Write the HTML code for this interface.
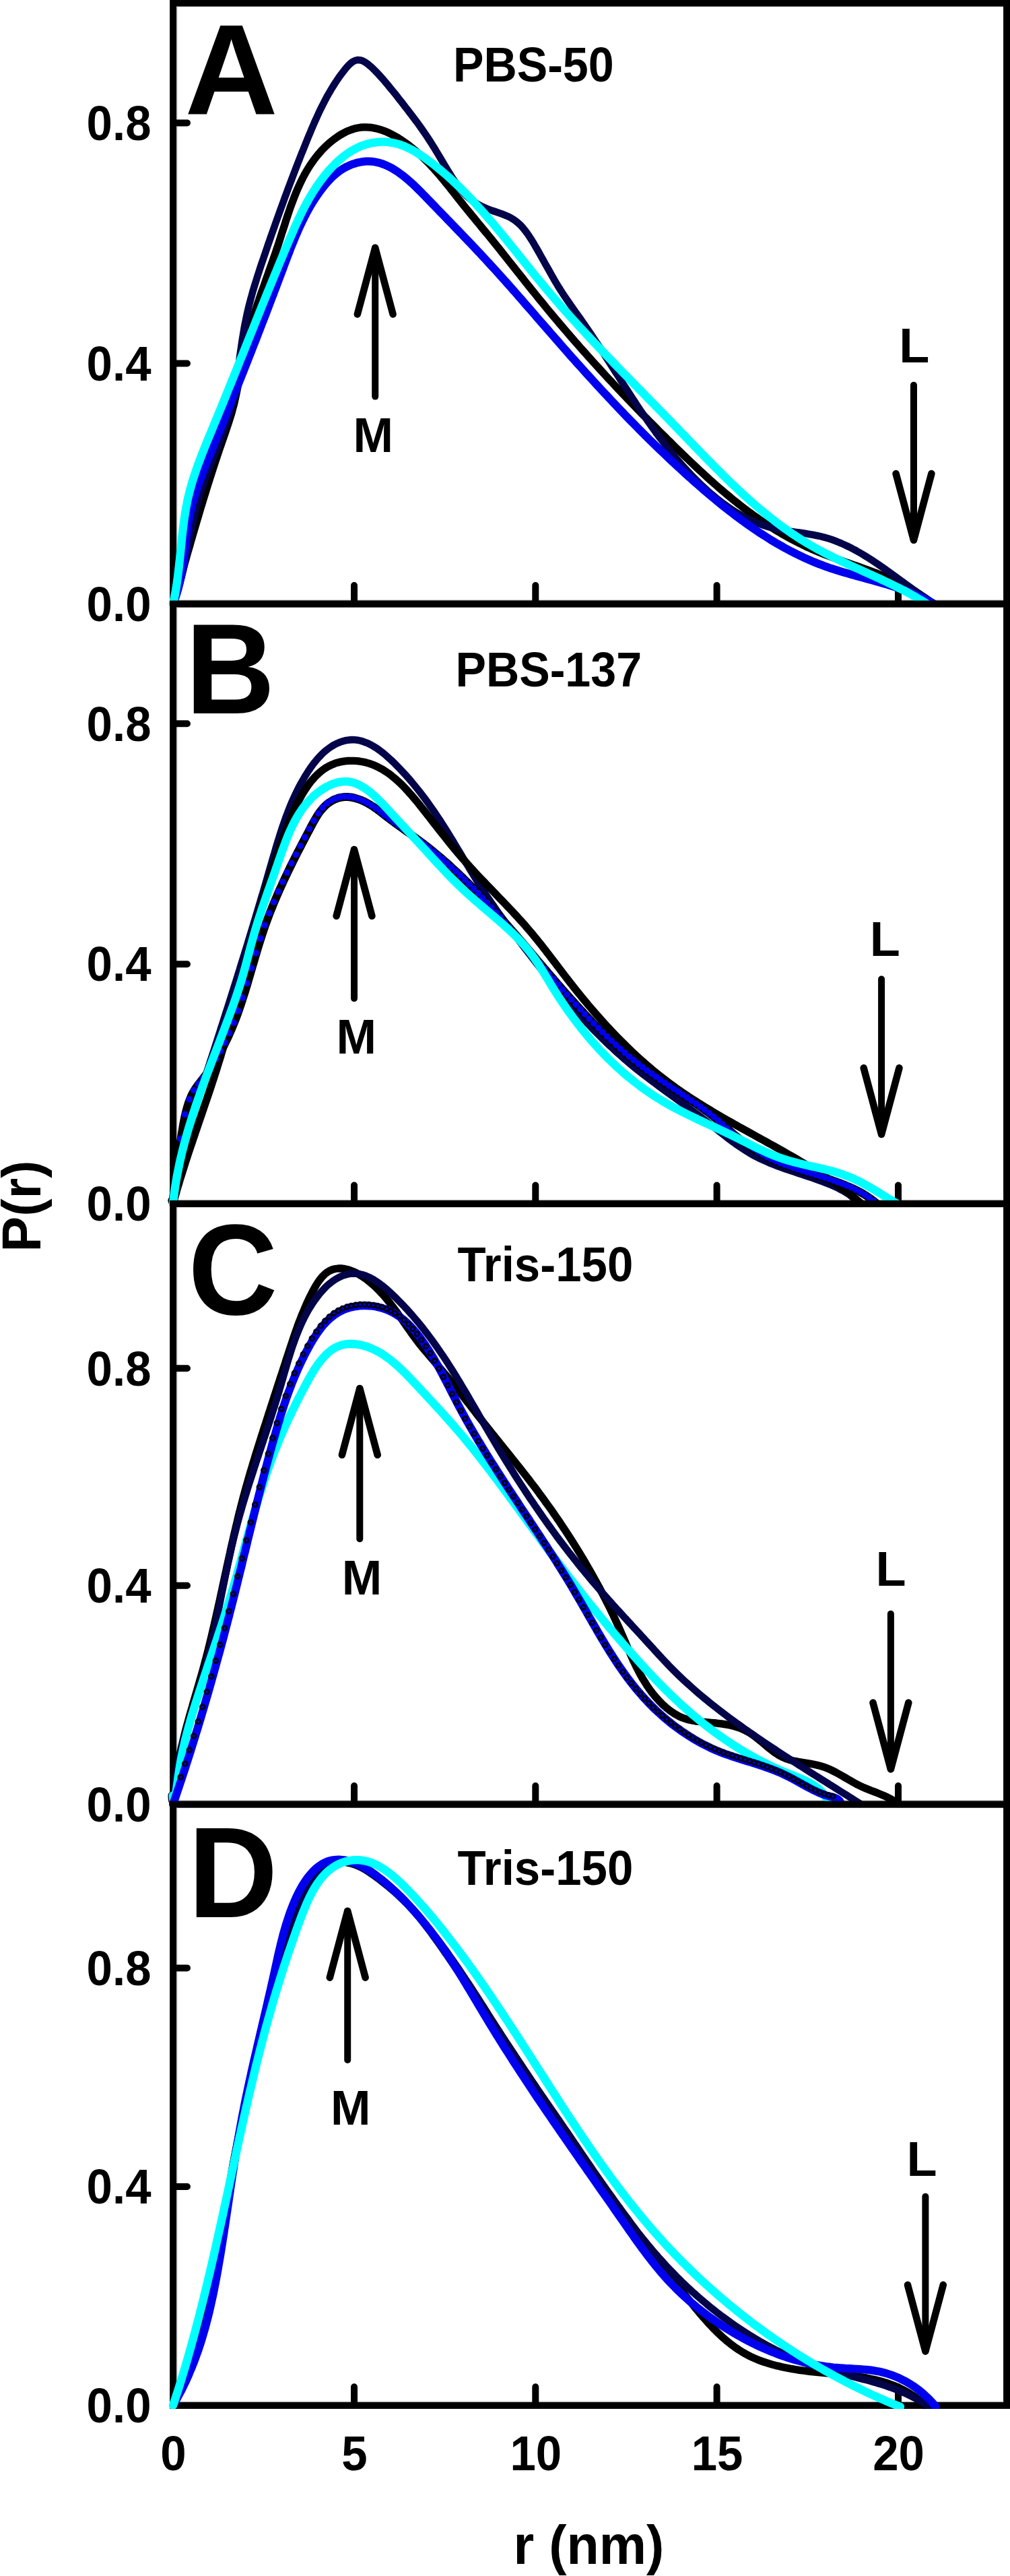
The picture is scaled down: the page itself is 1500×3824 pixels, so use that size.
<!DOCTYPE html>
<html lang="en"><head><meta charset="utf-8"><title>P(r) distributions</title>
<style>html,body{margin:0;padding:0;background:#fff}svg{display:block}text{font-family:"Liberation Sans",Arial,Helvetica,sans-serif;font-weight:bold;fill:#000}.t{font-size:69px}.ax{font-size:79px}.pl{font-size:184px}.c{fill:none;stroke-linejoin:round;stroke-linecap:round}</style></head><body>
<svg width="1500" height="3824" viewBox="0 0 1500 3824">
<defs><marker id="mb" markerWidth="14" markerHeight="14" refX="7" refY="7" markerUnits="userSpaceOnUse"><circle cx="6.4" cy="6.4" r="4.9" fill="#0000ee"/></marker><marker id="mc" markerWidth="14" markerHeight="14" refX="7" refY="7" markerUnits="userSpaceOnUse"><circle cx="5.3" cy="5.3" r="3.25" fill="none" stroke="#000014" stroke-width="3.0"/></marker><clipPath id="clipD"><rect x="240" y="2670" width="1260" height="906"/></clipPath></defs>
<rect x="0" y="0" width="1500" height="3824" fill="#fff"/>
<g id="panelA">
<rect x="257.2" y="4.6" width="1238.0" height="892.0" fill="#fff" stroke="#000" stroke-width="10.2"/>
<path d="M262.9 9.6V890.9H1490.2" fill="none" stroke="#c4c4c4" stroke-width="1.3"/>
<path d="M260.0 182.4H278.0M260.0 539.5H278.0M526.0 893.6V869.1M795.3 893.6V869.1M1064.6 893.6V869.1M1334.0 893.6V869.1" stroke="#000" stroke-width="10" stroke-linecap="round" fill="none"/>
<g>
<path class="c" d="M257.0 896.6L258.4 891.8 259.8 886.9 261.2 882.1 262.5 877.3 263.9 872.4 265.3 867.6 266.7 862.8 268.0 857.9 269.4 853.1 270.8 848.3 272.1 843.5 273.5 838.7 274.9 833.9 276.3 829.1 277.6 824.3 279.0 819.5 280.4 814.7 281.8 809.9 283.1 805.1 284.5 800.3 285.9 795.5 287.3 790.7 288.7 785.9 290.1 781.1 291.5 776.3 292.9 771.6 294.4 766.8 295.8 762.0 297.2 757.2 298.6 752.4 300.1 747.7 301.5 742.9 303.0 738.1 304.5 733.4 305.9 728.6 307.4 723.8 308.9 719.0 310.4 714.3 311.9 709.5 313.5 704.7 315.0 700.0 316.5 695.2 318.1 690.4 319.6 685.7 321.2 680.9 322.8 676.2 324.4 671.4 326.0 666.6 327.7 661.9 329.3 657.1 331.0 652.3 332.6 647.6 334.3 642.8 335.9 638.0 337.5 633.3 339.1 628.5 340.6 623.7 342.1 619.0 343.6 614.2 344.9 609.4 346.2 604.6 347.5 599.9 348.6 595.1 349.7 590.3 350.7 585.5 351.7 580.8 352.6 576.0 353.5 571.2 354.4 566.4 355.2 561.6 356.1 556.9 356.9 552.1 357.8 547.3 358.6 542.5 359.5 537.7 360.4 532.9 361.3 528.1 362.3 523.3 363.3 518.5 364.4 513.7 365.5 508.9 366.7 504.1 367.9 499.2 369.2 494.4 370.5 489.6 371.9 484.8 373.4 480.0 374.8 475.1 376.3 470.3 377.9 465.5 379.4 460.6 381.0 455.8 382.6 450.9 384.3 446.1 386.0 441.2 387.6 436.4 389.3 431.5 391.1 426.6 392.8 421.8 394.5 416.9 396.2 412.0 398.0 407.1 399.7 402.2 401.4 397.4 403.2 392.5 404.9 387.6 406.6 382.7 408.3 377.8 410.0 372.8 411.6 367.9 413.3 363.0 414.9 358.1 416.5 353.1 418.0 348.2 419.6 343.3 421.2 338.4 422.8 333.5 424.3 328.6 425.9 323.7 427.5 318.9 429.2 314.0 430.8 309.2 432.5 304.5 434.3 299.7 436.1 295.0 437.9 290.4 439.8 285.7 441.7 281.1 443.7 276.6 445.8 272.1 447.9 267.7 450.1 263.3 452.4 259.0 454.8 254.7 457.3 250.6 459.9 246.4 462.6 242.4 465.4 238.4 468.3 234.5 471.3 230.7 474.5 227.0 477.7 223.3 481.2 219.8 484.7 216.3 488.4 212.9 492.2 209.7 496.2 206.6 500.2 203.7 504.3 201.0 508.6 198.5 512.9 196.2 517.2 194.2 521.7 192.5 526.1 191.1 530.6 190.0 535.2 189.2 539.8 188.8 544.3 188.8 548.9 189.1 553.5 189.7 558.1 190.6 562.7 191.8 567.3 193.2 571.9 194.9 576.4 196.8 580.9 199.0 585.4 201.4 589.8 203.9 594.3 206.7 598.6 209.6 602.9 212.6 607.2 215.8 611.4 219.1 615.5 222.5 619.5 226.0 623.5 229.6 627.4 233.2 631.2 236.9 634.9 240.6 638.5 244.3 642.0 248.0 645.4 251.8 648.7 255.5 652.0 259.2 655.2 263.0 658.3 266.8 661.4 270.6 664.5 274.3 667.5 278.1 670.5 281.9 673.6 285.7 676.6 289.6 679.6 293.4 682.6 297.2 685.6 301.0 688.7 304.9 691.8 308.7 695.0 312.6 698.1 316.4 701.3 320.3 704.5 324.2 707.7 328.1 710.9 332.0 714.1 335.9 717.3 339.8 720.5 343.7 723.8 347.6 727.0 351.5 730.2 355.4 733.3 359.3 736.5 363.3 739.7 367.2 742.8 371.1 746.0 375.1 749.1 379.0 752.3 383.0 755.4 386.9 758.5 390.9 761.7 394.8 764.8 398.7 767.9 402.7 771.0 406.6 774.2 410.6 777.3 414.5 780.4 418.4 783.5 422.4 786.7 426.3 789.8 430.2 792.9 434.1 796.1 438.0 799.2 441.9 802.4 445.8 805.6 449.7 808.7 453.6 811.9 457.5 815.1 461.3 818.3 465.2 821.5 469.0 824.8 472.9 828.0 476.7 831.2 480.5 834.5 484.3 837.7 488.1 841.0 491.9 844.2 495.7 847.5 499.5 850.8 503.3 854.1 507.1 857.4 510.8 860.7 514.6 864.0 518.4 867.4 522.1 870.7 525.8 874.0 529.6 877.4 533.3 880.7 537.0 884.1 540.7 887.5 544.4 890.9 548.1 894.2 551.8 897.6 555.5 901.0 559.2 904.4 562.9 907.9 566.5 911.3 570.2 914.7 573.8 918.2 577.5 921.6 581.1 925.1 584.8 928.5 588.4 932.0 592.0 935.5 595.6 938.9 599.3 942.4 602.9 945.9 606.5 949.4 610.1 952.9 613.7 956.4 617.3 960.0 620.8 963.5 624.4 967.0 628.0 970.6 631.6 974.1 635.1 977.7 638.7 981.2 642.2 984.8 645.8 988.4 649.3 992.0 652.9 995.6 656.4 999.1 659.9 1002.7 663.5 1006.4 667.0 1010.0 670.5 1013.6 674.0 1017.2 677.5 1020.9 681.0 1024.5 684.5 1028.2 688.0 1031.8 691.4 1035.5 694.9 1039.2 698.3 1042.9 701.7 1046.6 705.1 1050.3 708.5 1054.0 711.9 1057.8 715.2 1061.6 718.6 1065.3 721.9 1069.1 725.2 1072.9 728.4 1076.8 731.7 1080.6 734.9 1084.5 738.1 1088.3 741.3 1092.2 744.4 1096.1 747.5 1100.1 750.6 1104.0 753.7 1108.0 756.7 1112.0 759.7 1116.0 762.6 1120.0 765.5 1124.1 768.4 1128.2 771.3 1132.3 774.1 1136.4 776.9 1140.5 779.6 1144.7 782.3 1148.9 785.0 1153.1 787.6 1157.4 790.1 1161.7 792.7 1166.0 795.1 1170.3 797.6 1174.7 800.0 1179.1 802.3 1183.5 804.6 1187.9 806.8 1192.4 809.0 1196.9 811.2 1201.5 813.2 1206.0 815.3 1210.7 817.3 1215.3 819.2 1219.9 821.1 1224.6 822.9 1229.3 824.8 1234.0 826.5 1238.8 828.3 1243.5 830.0 1248.3 831.8 1253.1 833.5 1257.8 835.2 1262.6 836.8 1267.4 838.5 1272.2 840.2 1276.9 841.9 1281.7 843.6 1286.5 845.3 1291.2 847.1 1295.9 848.9 1300.7 850.6 1305.4 852.5 1310.0 854.3 1314.7 856.2 1319.3 858.2 1323.9 860.2 1328.5 862.2 1333.0 864.3 1337.5 866.5 1342.0 868.7 1346.4 871.0 1350.8 873.4 1355.2 875.8 1359.5 878.3 1363.7 880.9 1367.9 883.6 1372.0 886.4 1376.1 889.3 1380.1 892.3 1384.1 895.4 1388.0 898.6" stroke="#000000" stroke-width="11.3"/>
<path class="c" d="M257.0 896.6L258.8 891.8 260.6 886.9 262.2 882.1 263.8 877.2 265.3 872.4 266.7 867.5 268.0 862.7 269.3 857.9 270.5 853.0 271.7 848.2 272.8 843.4 273.8 838.5 274.9 833.7 275.9 828.9 276.8 824.0 277.8 819.2 278.7 814.4 279.6 809.6 280.6 804.8 281.5 799.9 282.4 795.1 283.3 790.3 284.3 785.5 285.3 780.7 286.3 775.9 287.3 771.0 288.4 766.2 289.5 761.4 290.6 756.6 291.8 751.8 293.1 747.0 294.5 742.2 295.9 737.4 297.4 732.6 298.9 727.8 300.5 723.0 302.2 718.1 303.9 713.3 305.7 708.5 307.5 703.7 309.3 698.9 311.1 694.1 313.0 689.3 314.9 684.5 316.8 679.7 318.7 674.9 320.6 670.1 322.5 665.3 324.3 660.4 326.2 655.6 328.0 650.8 329.8 646.0 331.6 641.2 333.3 636.4 334.9 631.6 336.5 626.7 338.0 621.9 339.5 617.1 340.9 612.3 342.2 607.5 343.4 602.6 344.6 597.8 345.7 593.0 346.7 588.2 347.7 583.3 348.6 578.5 349.5 573.7 350.3 568.8 351.1 564.0 351.9 559.2 352.6 554.3 353.3 549.5 354.0 544.7 354.7 539.8 355.4 535.0 356.0 530.2 356.7 525.3 357.4 520.5 358.1 515.7 358.8 510.8 359.5 506.0 360.3 501.2 361.1 496.3 361.9 491.5 362.7 486.7 363.6 481.8 364.6 477.0 365.6 472.2 366.6 467.3 367.7 462.5 368.8 457.7 370.0 452.8 371.3 448.0 372.5 443.2 373.9 438.4 375.2 433.5 376.6 428.7 378.1 423.9 379.6 419.1 381.1 414.2 382.6 409.4 384.2 404.6 385.7 399.8 387.3 395.0 388.9 390.2 390.6 385.4 392.2 380.6 393.9 375.8 395.5 370.9 397.2 366.1 398.8 361.3 400.5 356.5 402.1 351.8 403.8 347.0 405.5 342.2 407.2 337.4 408.9 332.6 410.6 327.8 412.3 323.0 414.0 318.3 415.7 313.5 417.4 308.7 419.2 303.9 420.9 299.2 422.6 294.4 424.4 289.7 426.1 284.9 427.9 280.1 429.7 275.4 431.5 270.7 433.3 265.9 435.1 261.2 436.9 256.4 438.7 251.7 440.5 247.0 442.3 242.3 444.2 237.5 446.0 232.8 447.9 228.1 449.8 223.4 451.7 218.7 453.6 214.0 455.5 209.3 457.4 204.6 459.3 199.9 461.3 195.3 463.2 190.6 465.2 186.0 467.2 181.3 469.3 176.7 471.4 172.1 473.5 167.6 475.6 163.1 477.8 158.6 480.1 154.1 482.4 149.6 484.7 145.2 487.1 140.9 489.6 136.6 492.1 132.3 494.7 128.1 497.3 123.9 500.0 119.8 502.8 115.7 505.7 111.7 508.6 107.8 511.6 103.9 514.7 100.1 517.9 96.7 521.2 93.6 524.6 91.2 528.1 89.6 531.6 88.9 535.3 89.3 539.1 90.6 542.9 92.7 546.7 95.4 550.5 98.7 554.3 102.2 558.1 106.0 561.8 109.9 565.4 113.9 569.0 117.9 572.5 122.0 576.0 126.1 579.4 130.3 582.8 134.5 586.2 138.6 589.5 142.8 592.7 146.9 596.0 151.1 599.2 155.1 602.3 159.2 605.5 163.2 608.5 167.2 611.6 171.2 614.6 175.2 617.6 179.2 620.5 183.2 623.4 187.1 626.2 191.1 629.0 195.1 631.7 199.0 634.4 203.0 637.0 207.0 639.6 211.0 642.1 215.1 644.7 219.1 647.2 223.2 649.7 227.4 652.2 231.5 654.7 235.7 657.2 239.9 659.7 244.2 662.3 248.5 665.0 252.9 667.7 257.3 670.5 261.8 673.3 266.3 676.3 270.7 679.3 275.1 682.5 279.3 685.8 283.4 689.3 287.2 692.9 290.8 696.6 294.2 700.5 297.3 704.6 300.1 708.7 302.7 713.0 305.1 717.3 307.2 721.8 309.2 726.3 310.9 730.9 312.6 735.5 314.1 740.1 315.7 744.6 317.3 749.0 319.0 753.4 320.8 757.6 322.8 761.7 325.2 765.6 327.8 769.3 330.8 772.9 334.2 776.3 337.9 779.5 341.8 782.7 346.0 785.7 350.3 788.6 354.8 791.4 359.3 794.1 363.9 796.8 368.5 799.4 373.0 801.9 377.5 804.4 382.0 806.9 386.4 809.3 390.8 811.8 395.1 814.2 399.4 816.6 403.7 819.0 408.0 821.4 412.2 823.8 416.4 826.3 420.6 828.8 424.7 831.4 428.9 834.0 433.0 836.7 437.1 839.4 441.2 842.2 445.3 845.1 449.4 847.9 453.5 850.8 457.6 853.7 461.7 856.6 465.8 859.5 469.9 862.5 474.0 865.4 478.2 868.2 482.3 871.1 486.5 874.0 490.6 876.8 494.8 879.6 499.0 882.4 503.2 885.2 507.4 888.0 511.6 890.8 515.9 893.5 520.1 896.3 524.3 899.0 528.6 901.7 532.8 904.5 537.1 907.2 541.3 909.9 545.6 912.6 549.8 915.3 554.1 918.1 558.3 920.8 562.6 923.5 566.8 926.2 571.0 928.9 575.3 931.7 579.5 934.4 583.7 937.2 587.9 939.9 592.1 942.7 596.3 945.4 600.5 948.2 604.7 951.0 608.9 953.8 613.0 956.6 617.2 959.5 621.3 962.3 625.4 965.2 629.5 968.1 633.6 971.0 637.6 973.9 641.7 976.9 645.7 979.9 649.7 982.9 653.6 985.9 657.6 989.0 661.5 992.0 665.4 995.1 669.3 998.3 673.2 1001.4 677.0 1004.6 680.8 1007.9 684.6 1011.1 688.3 1014.4 692.0 1017.8 695.7 1021.2 699.4 1024.6 703.0 1028.0 706.6 1031.5 710.1 1035.0 713.6 1038.6 717.1 1042.2 720.5 1045.9 723.9 1049.6 727.3 1053.3 730.6 1057.1 733.9 1061.0 737.1 1064.9 740.3 1068.8 743.4 1072.8 746.5 1076.8 749.4 1080.9 752.3 1085.0 755.2 1089.2 757.9 1093.4 760.6 1097.7 763.1 1102.0 765.6 1106.4 767.9 1110.8 770.2 1115.2 772.3 1119.7 774.4 1124.3 776.3 1128.8 778.1 1133.5 779.7 1138.2 781.2 1142.9 782.6 1147.7 783.8 1152.5 784.9 1157.3 785.9 1162.2 786.8 1167.1 787.7 1172.1 788.4 1177.0 789.2 1181.9 789.9 1186.9 790.6 1191.8 791.3 1196.8 792.1 1201.7 792.9 1206.6 793.7 1211.5 794.7 1216.4 795.7 1221.2 796.8 1226.0 798.1 1230.7 799.5 1235.4 801.1 1240.1 802.8 1244.7 804.6 1249.3 806.5 1253.8 808.5 1258.3 810.6 1262.8 812.8 1267.2 815.1 1271.7 817.5 1276.1 820.0 1280.4 822.5 1284.7 825.1 1289.0 827.8 1293.3 830.5 1297.6 833.3 1301.8 836.2 1306.0 839.0 1310.2 841.9 1314.4 844.9 1318.6 847.8 1322.7 850.8 1326.9 853.8 1331.0 856.8 1335.1 859.8 1339.2 862.8 1343.3 865.7 1347.3 868.7 1351.4 871.6 1355.5 874.6 1359.5 877.4 1363.6 880.3 1367.6 883.1 1371.7 885.8 1375.8 888.5 1379.8 891.1 1383.9 893.7 1387.9 896.2 1392.0 898.6" stroke="#04044a" stroke-width="10.6"/>
<path class="c" d="M257.0 896.6L258.9 891.5 260.7 886.5 262.4 881.4 263.9 876.4 265.2 871.3 266.5 866.3 267.6 861.3 268.6 856.3 269.5 851.3 270.4 846.4 271.2 841.4 271.9 836.5 272.6 831.6 273.2 826.6 273.8 821.7 274.3 816.8 274.9 811.9 275.4 807.1 276.0 802.2 276.6 797.3 277.2 792.5 277.8 787.6 278.5 782.8 279.2 778.0 280.1 773.2 280.9 768.4 281.9 763.6 283.0 758.8 284.1 754.0 285.3 749.2 286.6 744.5 288.0 739.7 289.5 735.0 291.0 730.2 292.5 725.5 294.1 720.8 295.8 716.0 297.5 711.3 299.3 706.6 301.0 701.9 302.9 697.2 304.7 692.5 306.6 687.8 308.4 683.1 310.3 678.4 312.2 673.8 314.1 669.1 316.0 664.4 317.9 659.8 319.8 655.1 321.7 650.4 323.6 645.8 325.5 641.1 327.3 636.5 329.2 631.8 331.1 627.2 333.0 622.5 334.8 617.9 336.7 613.3 338.6 608.6 340.4 604.0 342.3 599.3 344.1 594.7 346.0 590.1 347.9 585.4 349.7 580.8 351.6 576.2 353.4 571.5 355.2 566.9 357.1 562.3 358.9 557.6 360.8 553.0 362.6 548.3 364.4 543.7 366.3 539.1 368.1 534.4 369.9 529.8 371.8 525.1 373.6 520.5 375.4 515.8 377.2 511.1 379.1 506.5 380.9 501.8 382.7 497.1 384.5 492.5 386.3 487.8 388.1 483.1 389.9 478.4 391.8 473.7 393.6 469.0 395.4 464.3 397.2 459.6 399.0 454.9 400.8 450.2 402.6 445.4 404.4 440.7 406.2 436.0 408.0 431.2 409.8 426.5 411.6 421.7 413.4 416.9 415.2 412.2 417.0 407.4 418.8 402.6 420.6 397.8 422.4 393.0 424.2 388.2 426.0 383.4 427.8 378.6 429.7 373.8 431.5 369.0 433.4 364.2 435.4 359.5 437.3 354.7 439.3 350.0 441.3 345.3 443.3 340.7 445.4 336.1 447.6 331.5 449.8 326.9 452.0 322.4 454.3 317.9 456.7 313.5 459.1 309.1 461.6 304.8 464.2 300.5 466.8 296.3 469.6 292.2 472.4 288.1 475.2 284.1 478.2 280.1 481.3 276.3 484.4 272.5 487.7 268.8 491.1 265.2 494.6 261.8 498.3 258.5 502.2 255.4 506.2 252.5 510.5 249.8 515.0 247.4 519.7 245.3 524.4 243.4 529.2 241.9 534.0 240.8 538.8 240.0 543.5 239.6 548.1 239.5 552.6 239.8 557.0 240.4 561.4 241.3 565.7 242.5 570.0 244.0 574.2 245.8 578.4 247.7 582.5 249.9 586.5 252.4 590.6 255.0 594.5 257.8 598.4 260.7 602.3 263.9 606.2 267.1 610.0 270.5 613.8 273.9 617.5 277.5 621.2 281.1 624.9 284.8 628.6 288.6 632.3 292.3 635.9 296.1 639.5 299.8 643.1 303.6 646.8 307.3 650.3 311.0 653.9 314.7 657.5 318.4 661.1 322.1 664.6 325.8 668.1 329.4 671.7 333.1 675.2 336.7 678.7 340.4 682.2 344.0 685.7 347.6 689.2 351.3 692.6 354.9 696.1 358.5 699.6 362.1 703.0 365.8 706.4 369.4 709.9 373.1 713.3 376.7 716.7 380.4 720.1 384.0 723.5 387.7 726.9 391.4 730.3 395.1 733.7 398.8 737.1 402.5 740.5 406.3 743.8 410.0 747.2 413.8 750.6 417.5 753.9 421.3 757.3 425.1 760.6 428.9 764.0 432.6 767.3 436.4 770.6 440.2 774.0 444.0 777.3 447.9 780.6 451.7 783.9 455.5 787.3 459.3 790.6 463.1 793.9 466.9 797.2 470.8 800.5 474.6 803.9 478.4 807.2 482.2 810.5 486.0 813.8 489.8 817.1 493.6 820.4 497.4 823.8 501.2 827.1 505.0 830.4 508.8 833.7 512.6 837.0 516.4 840.3 520.1 843.7 523.9 847.0 527.7 850.3 531.4 853.6 535.1 857.0 538.9 860.3 542.6 863.7 546.3 867.0 550.0 870.3 553.7 873.7 557.4 877.0 561.1 880.4 564.8 883.8 568.5 887.1 572.1 890.5 575.8 893.9 579.5 897.3 583.1 900.7 586.7 904.1 590.4 907.5 594.0 910.9 597.6 914.3 601.2 917.7 604.8 921.1 608.4 924.6 612.0 928.0 615.6 931.5 619.2 934.9 622.7 938.4 626.3 941.9 629.8 945.4 633.4 948.9 636.9 952.4 640.4 955.9 643.9 959.4 647.5 962.9 651.0 966.5 654.5 970.0 657.9 973.6 661.4 977.2 664.9 980.8 668.3 984.4 671.8 988.0 675.2 991.6 678.7 995.2 682.1 998.9 685.5 1002.5 688.9 1006.2 692.3 1009.9 695.7 1013.6 699.1 1017.3 702.5 1021.0 705.9 1024.8 709.2 1028.5 712.6 1032.3 715.9 1036.1 719.2 1039.9 722.6 1043.7 725.9 1047.5 729.2 1051.3 732.4 1055.2 735.7 1059.1 738.9 1063.0 742.2 1066.9 745.4 1070.8 748.6 1074.7 751.7 1078.7 754.9 1082.7 758.0 1086.7 761.1 1090.7 764.1 1094.7 767.2 1098.8 770.2 1102.8 773.2 1106.9 776.1 1111.0 779.0 1115.1 781.9 1119.3 784.8 1123.4 787.6 1127.6 790.4 1131.8 793.1 1136.0 795.8 1140.3 798.5 1144.5 801.2 1148.8 803.7 1153.1 806.3 1157.4 808.8 1161.8 811.3 1166.1 813.7 1170.5 816.0 1174.9 818.4 1179.4 820.6 1183.8 822.9 1188.3 825.0 1192.8 827.2 1197.3 829.2 1201.9 831.2 1206.4 833.2 1211.0 835.1 1215.6 837.0 1220.3 838.7 1224.9 840.5 1229.6 842.1 1234.3 843.8 1239.1 845.3 1243.8 846.8 1248.6 848.3 1253.4 849.7 1258.2 851.1 1263.0 852.5 1267.8 853.8 1272.7 855.2 1277.5 856.5 1282.3 857.8 1287.2 859.1 1292.0 860.4 1296.9 861.8 1301.7 863.1 1306.5 864.5 1311.3 865.9 1316.1 867.3 1320.9 868.7 1325.7 870.2 1330.5 871.8 1335.2 873.4 1340.0 875.0 1344.7 876.8 1349.3 878.5 1354.0 880.4 1358.6 882.4 1363.2 884.4 1367.8 886.5 1372.3 888.7 1376.8 891.0 1381.2 893.4 1385.6 896.0 1390.0 898.6" stroke="#0000ee" stroke-width="12.0"/>
<path class="c" d="M257.0 896.6L258.1 891.5 259.1 886.4 260.1 881.3 261.0 876.3 261.8 871.2 262.6 866.2 263.3 861.1 264.0 856.1 264.6 851.1 265.2 846.1 265.8 841.1 266.3 836.1 266.9 831.1 267.4 826.2 267.9 821.2 268.4 816.2 268.9 811.3 269.4 806.4 269.9 801.5 270.4 796.5 271.0 791.6 271.5 786.7 272.1 781.9 272.7 777.0 273.4 772.1 274.1 767.2 274.9 762.4 275.7 757.5 276.5 752.7 277.5 747.9 278.4 743.0 279.5 738.2 280.7 733.4 281.9 728.6 283.2 723.8 284.5 719.0 286.0 714.2 287.4 709.5 289.0 704.7 290.6 699.9 292.2 695.2 293.9 690.4 295.7 685.7 297.5 680.9 299.3 676.2 301.1 671.5 303.0 666.7 304.9 662.0 306.8 657.3 308.7 652.6 310.7 647.9 312.6 643.2 314.6 638.5 316.5 633.8 318.4 629.1 320.4 624.4 322.3 619.8 324.2 615.1 326.1 610.4 328.1 605.8 330.0 601.1 331.9 596.4 333.8 591.8 335.7 587.1 337.5 582.5 339.4 577.8 341.3 573.2 343.2 568.6 345.1 563.9 346.9 559.3 348.8 554.7 350.7 550.0 352.5 545.4 354.4 540.8 356.2 536.1 358.1 531.5 360.0 526.9 361.8 522.3 363.7 517.7 365.5 513.0 367.4 508.4 369.2 503.8 371.1 499.2 372.9 494.6 374.8 490.0 376.6 485.4 378.5 480.7 380.3 476.1 382.2 471.5 384.0 466.9 385.9 462.3 387.8 457.7 389.6 453.1 391.5 448.5 393.4 443.8 395.2 439.2 397.1 434.6 399.0 430.0 400.9 425.4 402.8 420.8 404.7 416.1 406.6 411.5 408.5 406.9 410.4 402.3 412.3 397.6 414.2 393.0 416.1 388.4 418.1 383.8 420.0 379.1 421.9 374.5 423.9 369.8 425.8 365.2 427.8 360.5 429.8 355.9 431.8 351.3 433.8 346.6 435.8 342.0 437.8 337.3 439.9 332.7 442.0 328.1 444.2 323.5 446.4 319.0 448.6 314.4 450.9 309.9 453.2 305.4 455.6 301.0 458.1 296.5 460.6 292.2 463.2 287.8 465.9 283.5 468.6 279.3 471.5 275.0 474.4 270.9 477.4 266.8 480.5 262.7 483.7 258.7 487.0 254.8 490.4 250.9 493.9 247.2 497.5 243.5 501.2 239.9 505.1 236.5 509.0 233.2 513.0 230.1 517.1 227.2 521.3 224.5 525.6 222.0 530.0 219.7 534.4 217.6 539.0 215.8 543.7 214.3 548.4 213.0 553.2 212.0 558.0 211.3 562.8 210.8 567.7 210.6 572.5 210.7 577.3 211.1 582.1 211.8 586.8 212.7 591.4 213.9 596.0 215.4 600.5 217.1 605.0 219.1 609.4 221.2 613.7 223.5 618.0 226.0 622.3 228.7 626.4 231.4 630.6 234.3 634.6 237.2 638.7 240.2 642.7 243.2 646.6 246.3 650.5 249.5 654.4 252.6 658.2 255.9 662.0 259.1 665.8 262.4 669.5 265.8 673.2 269.2 676.9 272.6 680.5 276.0 684.1 279.5 687.6 283.1 691.2 286.6 694.7 290.2 698.2 293.8 701.6 297.5 705.0 301.1 708.4 304.8 711.8 308.6 715.2 312.3 718.5 316.1 721.8 319.9 725.1 323.7 728.4 327.5 731.7 331.3 735.0 335.2 738.2 339.1 741.4 343.0 744.7 346.9 747.9 350.8 751.1 354.7 754.2 358.6 757.4 362.5 760.6 366.5 763.8 370.4 767.0 374.4 770.1 378.3 773.3 382.3 776.5 386.2 779.6 390.2 782.8 394.1 786.0 398.0 789.1 402.0 792.3 405.9 795.5 409.8 798.7 413.7 801.9 417.6 805.1 421.5 808.3 425.3 811.6 429.2 814.8 433.0 818.1 436.9 821.3 440.7 824.6 444.5 827.9 448.3 831.2 452.1 834.5 455.8 837.8 459.6 841.1 463.3 844.5 467.1 847.8 470.8 851.1 474.5 854.5 478.2 857.9 481.9 861.2 485.6 864.6 489.2 868.0 492.9 871.4 496.6 874.8 500.2 878.2 503.9 881.6 507.5 885.1 511.1 888.5 514.8 891.9 518.4 895.4 522.0 898.8 525.6 902.2 529.2 905.7 532.8 909.2 536.4 912.6 540.0 916.1 543.6 919.6 547.2 923.0 550.8 926.5 554.3 930.0 557.9 933.5 561.5 937.0 565.1 940.4 568.6 943.9 572.2 947.4 575.8 950.9 579.4 954.4 582.9 957.9 586.5 961.4 590.1 964.9 593.6 968.4 597.2 971.9 600.8 975.4 604.4 978.9 608.0 982.4 611.5 985.9 615.1 989.4 618.7 992.9 622.3 996.4 625.9 999.9 629.5 1003.4 633.1 1006.9 636.7 1010.4 640.4 1013.9 644.0 1017.4 647.6 1020.9 651.2 1024.4 654.9 1027.9 658.5 1031.4 662.1 1034.9 665.8 1038.4 669.4 1041.9 673.0 1045.4 676.6 1048.9 680.2 1052.5 683.8 1056.0 687.4 1059.5 691.0 1063.1 694.6 1066.7 698.2 1070.2 701.7 1073.8 705.3 1077.4 708.8 1081.0 712.3 1084.6 715.8 1088.2 719.3 1091.9 722.7 1095.5 726.2 1099.2 729.6 1102.8 733.0 1106.5 736.4 1110.3 739.7 1114.0 743.1 1117.7 746.4 1121.5 749.6 1125.3 752.9 1129.1 756.1 1132.9 759.3 1136.8 762.5 1140.7 765.6 1144.6 768.7 1148.5 771.8 1152.4 774.8 1156.4 777.8 1160.4 780.8 1164.4 783.7 1168.4 786.6 1172.5 789.5 1176.6 792.3 1180.8 795.0 1184.9 797.8 1189.1 800.4 1193.3 803.1 1197.6 805.7 1201.9 808.2 1206.2 810.7 1210.5 813.2 1214.9 815.6 1219.3 817.9 1223.7 820.3 1228.2 822.6 1232.7 824.8 1237.2 827.1 1241.7 829.3 1246.2 831.4 1250.8 833.6 1255.3 835.7 1259.9 837.9 1264.5 840.0 1269.0 842.1 1273.6 844.1 1278.2 846.2 1282.8 848.3 1287.4 850.4 1292.0 852.5 1296.6 854.5 1301.1 856.6 1305.7 858.7 1310.3 860.9 1314.8 863.0 1319.3 865.1 1323.8 867.3 1328.3 869.5 1332.8 871.7 1337.2 874.0 1341.7 876.2 1346.0 878.5 1350.4 880.9 1354.7 883.3 1359.0 885.7 1363.3 888.2 1367.6 890.7 1371.7 893.3 1375.9 895.9 1380.0 898.6" stroke="#00ffff" stroke-width="12.3"/>
</g>
</g>
<g id="panelB">
<rect x="257.2" y="896.6" width="1238.0" height="890.4" fill="#fff" stroke="#000" stroke-width="10.2"/>
<path d="M262.9 901.6V1781.3H1490.2" fill="none" stroke="#c4c4c4" stroke-width="1.3"/>
<path d="M260.0 1074.3H278.0M260.0 1431.2H278.0M526.0 1784.0V1759.5M795.3 1784.0V1759.5M1064.6 1784.0V1759.5M1334.0 1784.0V1759.5" stroke="#000" stroke-width="10" stroke-linecap="round" fill="none"/>
<g>
<path class="c" d="M257.0 1787.0L257.7 1782.0 258.4 1777.1 259.2 1772.1 260.0 1767.2 260.9 1762.3 261.8 1757.3 262.7 1752.4 263.7 1747.5 264.7 1742.6 265.7 1737.7 266.7 1732.8 267.8 1727.9 268.9 1723.0 270.1 1718.1 271.3 1713.2 272.5 1708.3 273.7 1703.5 275.0 1698.6 276.2 1693.7 277.5 1688.9 278.9 1684.0 280.2 1679.2 281.6 1674.3 283.0 1669.5 284.4 1664.7 285.8 1659.8 287.2 1655.0 288.7 1650.2 290.1 1645.4 291.6 1640.5 293.1 1635.7 294.6 1630.9 296.1 1626.1 297.6 1621.3 299.1 1616.5 300.7 1611.7 302.2 1606.9 303.7 1602.1 305.3 1597.3 306.8 1592.5 308.4 1587.8 309.9 1583.0 311.5 1578.2 313.0 1573.4 314.6 1568.6 316.1 1563.9 317.7 1559.1 319.2 1554.3 320.8 1549.5 322.3 1544.8 323.8 1540.0 325.4 1535.2 326.9 1530.5 328.4 1525.7 330.0 1520.9 331.5 1516.2 333.0 1511.4 334.5 1506.7 336.0 1501.9 337.6 1497.1 339.1 1492.4 340.6 1487.6 342.1 1482.8 343.6 1478.1 345.1 1473.3 346.6 1468.6 348.1 1463.8 349.6 1459.0 351.1 1454.3 352.6 1449.5 354.1 1444.7 355.6 1440.0 357.0 1435.2 358.5 1430.4 360.0 1425.7 361.5 1420.9 363.0 1416.1 364.4 1411.3 365.9 1406.6 367.4 1401.8 368.8 1397.0 370.3 1392.2 371.7 1387.4 373.2 1382.6 374.6 1377.9 376.1 1373.1 377.5 1368.3 379.0 1363.5 380.4 1358.7 381.9 1353.9 383.3 1349.0 384.7 1344.2 386.2 1339.4 387.6 1334.6 389.0 1329.8 390.5 1325.0 391.9 1320.1 393.3 1315.3 394.7 1310.5 396.1 1305.6 397.5 1300.8 398.9 1295.9 400.3 1291.1 401.7 1286.2 403.1 1281.4 404.5 1276.5 405.9 1271.6 407.4 1266.8 408.8 1261.9 410.2 1257.0 411.7 1252.2 413.2 1247.3 414.7 1242.5 416.2 1237.6 417.8 1232.8 419.3 1228.0 421.0 1223.2 422.7 1218.4 424.4 1213.6 426.2 1208.8 428.0 1204.1 429.9 1199.3 431.8 1194.6 433.8 1189.9 435.9 1185.3 438.0 1180.6 440.2 1176.0 442.5 1171.4 444.9 1166.8 447.3 1162.3 449.9 1157.8 452.5 1153.3 455.2 1148.9 458.0 1144.5 460.9 1140.2 464.0 1135.9 467.1 1131.8 470.4 1127.8 473.8 1124.0 477.3 1120.3 480.9 1116.8 484.7 1113.6 488.6 1110.6 492.7 1107.9 496.8 1105.4 501.1 1103.3 505.5 1101.5 509.8 1100.1 514.2 1099.0 518.5 1098.4 522.9 1098.1 527.1 1098.3 531.4 1098.8 535.6 1099.6 539.7 1100.9 543.8 1102.4 547.9 1104.2 551.9 1106.2 555.9 1108.6 559.9 1111.1 563.8 1113.9 567.6 1116.8 571.5 1119.9 575.2 1123.2 579.0 1126.6 582.7 1130.0 586.3 1133.6 589.9 1137.2 593.5 1140.9 597.0 1144.6 600.5 1148.4 604.0 1152.2 607.4 1156.1 610.8 1160.0 614.1 1164.0 617.4 1168.0 620.6 1172.0 623.8 1176.1 627.0 1180.2 630.1 1184.3 633.2 1188.5 636.2 1192.6 639.2 1196.8 642.1 1201.0 645.1 1205.2 647.9 1209.4 650.7 1213.6 653.5 1217.8 656.3 1222.1 659.0 1226.3 661.7 1230.5 664.3 1234.7 666.9 1239.0 669.5 1243.2 672.1 1247.4 674.6 1251.6 677.2 1255.9 679.7 1260.1 682.2 1264.3 684.8 1268.5 687.3 1272.8 689.8 1277.0 692.3 1281.2 694.8 1285.4 697.4 1289.6 699.9 1293.8 702.5 1298.0 705.1 1302.3 707.7 1306.5 710.3 1310.7 713.0 1314.8 715.7 1319.0 718.4 1323.2 721.2 1327.4 724.0 1331.6 726.8 1335.7 729.7 1339.9 732.6 1344.1 735.5 1348.2 738.4 1352.4 741.3 1356.5 744.3 1360.6 747.3 1364.7 750.3 1368.9 753.3 1373.0 756.4 1377.1 759.4 1381.2 762.5 1385.2 765.5 1389.3 768.6 1393.4 771.7 1397.4 774.8 1401.5 777.8 1405.5 780.9 1409.5 784.0 1413.5 787.1 1417.5 790.2 1421.5 793.3 1425.5 796.4 1429.5 799.5 1433.4 802.6 1437.4 805.7 1441.3 808.8 1445.2 811.9 1449.1 815.1 1453.0 818.2 1456.9 821.4 1460.7 824.5 1464.6 827.7 1468.4 830.9 1472.2 834.1 1476.0 837.3 1479.8 840.5 1483.6 843.7 1487.3 847.0 1491.1 850.3 1494.8 853.5 1498.5 856.8 1502.2 860.1 1505.8 863.5 1509.5 866.8 1513.1 870.2 1516.7 873.6 1520.3 877.0 1523.9 880.4 1527.5 883.8 1531.0 887.3 1534.5 890.8 1538.0 894.3 1541.5 897.9 1545.0 901.4 1548.4 905.0 1551.8 908.7 1555.2 912.3 1558.6 916.0 1562.0 919.7 1565.3 923.4 1568.6 927.2 1571.9 931.0 1575.1 934.8 1578.4 938.6 1581.6 942.5 1584.8 946.5 1588.0 950.4 1591.1 954.4 1594.2 958.4 1597.3 962.4 1600.4 966.5 1603.5 970.6 1606.5 974.7 1609.6 978.8 1612.6 982.9 1615.6 987.0 1618.6 991.1 1621.7 995.3 1624.7 999.4 1627.7 1003.6 1630.6 1007.7 1633.6 1011.9 1636.6 1016.0 1639.6 1020.1 1642.7 1024.2 1645.7 1028.3 1648.7 1032.4 1651.7 1036.5 1654.8 1040.5 1657.8 1044.5 1660.9 1048.5 1664.0 1052.5 1667.1 1056.4 1670.2 1060.3 1673.3 1064.2 1676.4 1068.2 1679.5 1072.1 1682.6 1076.0 1685.7 1079.9 1688.7 1083.8 1691.7 1087.8 1694.6 1091.8 1697.6 1095.8 1700.4 1099.9 1703.2 1104.0 1705.9 1108.1 1708.5 1112.3 1711.1 1116.6 1713.6 1120.9 1716.0 1125.3 1718.2 1129.7 1720.4 1134.2 1722.5 1138.7 1724.5 1143.4 1726.5 1148.0 1728.4 1152.7 1730.2 1157.4 1732.0 1162.2 1733.7 1166.9 1735.4 1171.7 1737.0 1176.6 1738.6 1181.4 1740.3 1186.2 1741.9 1191.1 1743.5 1195.9 1745.1 1200.7 1746.7 1205.5 1748.3 1210.3 1750.0 1215.1 1751.7 1219.9 1753.4 1224.6 1755.2 1229.3 1757.0 1233.9 1758.9 1238.5 1760.9 1243.0 1762.9 1247.4 1765.2 1251.7 1767.5 1255.9 1770.0 1260.0 1772.6 1263.9 1775.5 1267.7 1778.5 1271.3 1781.8 1274.7 1785.3 1278.0 1789.0" stroke="#04044a" stroke-width="10.6"/>
<path class="c" d="M257.0 1787.0L258.3 1782.2 259.7 1777.3 261.1 1772.5 262.4 1767.7 263.8 1762.8 265.3 1758.0 266.7 1753.2 268.2 1748.4 269.7 1743.7 271.2 1738.9 272.7 1734.1 274.2 1729.3 275.7 1724.6 277.3 1719.8 278.8 1715.0 280.4 1710.3 282.0 1705.5 283.6 1700.8 285.2 1696.1 286.8 1691.3 288.4 1686.6 290.0 1681.8 291.6 1677.1 293.2 1672.4 294.8 1667.6 296.4 1662.9 298.1 1658.2 299.7 1653.4 301.3 1648.7 302.9 1643.9 304.5 1639.2 306.2 1634.4 307.8 1629.7 309.4 1624.9 311.0 1620.2 312.6 1615.4 314.1 1610.7 315.7 1605.9 317.3 1601.1 318.8 1596.3 320.4 1591.5 321.9 1586.7 323.4 1581.9 324.9 1577.1 326.4 1572.3 327.9 1567.5 329.3 1562.6 330.7 1557.8 332.2 1553.0 333.6 1548.1 334.9 1543.2 336.3 1538.3 337.7 1533.5 339.0 1528.6 340.3 1523.7 341.6 1518.8 343.0 1513.9 344.2 1509.0 345.5 1504.2 346.8 1499.3 348.1 1494.4 349.3 1489.5 350.6 1484.6 351.8 1479.8 353.1 1474.9 354.3 1470.1 355.5 1465.2 356.7 1460.4 358.0 1455.6 359.2 1450.7 360.4 1445.9 361.6 1441.1 362.8 1436.4 364.1 1431.6 365.3 1426.9 366.5 1422.1 367.7 1417.4 368.9 1412.6 370.2 1407.9 371.4 1403.2 372.7 1398.5 373.9 1393.8 375.2 1389.1 376.4 1384.4 377.7 1379.7 379.0 1374.9 380.3 1370.2 381.6 1365.5 382.9 1360.8 384.3 1356.1 385.6 1351.4 387.0 1346.7 388.3 1342.0 389.7 1337.2 391.1 1332.5 392.5 1327.8 394.0 1323.0 395.4 1318.2 396.9 1313.5 398.4 1308.7 399.9 1303.9 401.5 1299.1 403.0 1294.3 404.6 1289.4 406.2 1284.6 407.9 1279.7 409.5 1274.8 411.2 1269.9 412.9 1265.0 414.6 1260.0 416.4 1255.1 418.2 1250.1 420.0 1245.1 421.9 1240.0 423.7 1235.0 425.7 1229.9 427.6 1224.8 429.6 1219.8 431.7 1214.8 433.8 1209.8 435.9 1204.8 438.1 1199.9 440.4 1195.1 442.8 1190.4 445.2 1185.7 447.7 1181.2 450.3 1176.8 453.0 1172.5 455.8 1168.3 458.6 1164.3 461.6 1160.4 464.7 1156.8 467.8 1153.3 471.1 1150.0 474.5 1146.9 478.0 1144.0 481.7 1141.3 485.5 1138.9 489.4 1136.8 493.4 1134.9 497.6 1133.2 501.9 1131.9 506.4 1130.8 510.9 1130.1 515.5 1129.5 520.2 1129.3 525.0 1129.3 529.7 1129.6 534.5 1130.2 539.2 1131.0 543.9 1132.1 548.5 1133.4 553.1 1135.0 557.5 1136.8 561.9 1138.9 566.2 1141.2 570.4 1143.7 574.5 1146.4 578.6 1149.2 582.5 1152.3 586.4 1155.5 590.2 1158.9 594.0 1162.3 597.7 1165.9 601.3 1169.7 604.9 1173.5 608.4 1177.4 611.9 1181.3 615.3 1185.4 618.7 1189.4 622.1 1193.5 625.4 1197.7 628.6 1201.8 631.9 1205.9 635.1 1210.0 638.3 1214.1 641.5 1218.2 644.6 1222.2 647.8 1226.2 650.9 1230.2 654.0 1234.2 657.2 1238.2 660.3 1242.1 663.4 1246.0 666.5 1249.9 669.7 1253.8 672.8 1257.7 676.0 1261.5 679.2 1265.3 682.4 1269.1 685.6 1272.9 688.9 1276.6 692.2 1280.3 695.5 1284.0 698.8 1287.7 702.2 1291.4 705.5 1295.0 708.9 1298.7 712.3 1302.3 715.8 1305.9 719.2 1309.5 722.7 1313.1 726.1 1316.7 729.6 1320.3 733.0 1323.9 736.5 1327.5 739.9 1331.1 743.4 1334.7 746.9 1338.3 750.3 1341.9 753.7 1345.5 757.2 1349.1 760.6 1352.7 764.0 1356.4 767.4 1360.0 770.7 1363.7 774.1 1367.4 777.4 1371.1 780.7 1374.8 783.9 1378.6 787.2 1382.4 790.4 1386.2 793.5 1390.0 796.7 1393.8 799.8 1397.7 802.9 1401.6 806.0 1405.5 809.1 1409.4 812.1 1413.4 815.2 1417.3 818.2 1421.3 821.2 1425.2 824.2 1429.2 827.3 1433.2 830.3 1437.1 833.3 1441.1 836.3 1445.1 839.4 1449.1 842.4 1453.0 845.5 1457.0 848.6 1460.9 851.6 1464.9 854.8 1468.8 857.9 1472.7 861.0 1476.6 864.2 1480.5 867.4 1484.4 870.6 1488.2 873.8 1492.1 877.1 1495.9 880.3 1499.7 883.6 1503.5 886.9 1507.3 890.3 1511.1 893.6 1514.8 897.0 1518.5 900.4 1522.3 903.8 1525.9 907.2 1529.6 910.6 1533.2 914.1 1536.9 917.6 1540.5 921.1 1544.0 924.7 1547.6 928.2 1551.1 931.8 1554.6 935.4 1558.1 939.0 1561.5 942.7 1564.9 946.3 1568.3 950.0 1571.7 953.8 1575.0 957.5 1578.3 961.3 1581.5 965.1 1584.8 968.9 1588.0 972.7 1591.2 976.6 1594.3 980.5 1597.4 984.4 1600.5 988.3 1603.5 992.3 1606.5 996.3 1609.5 1000.3 1612.4 1004.3 1615.3 1008.4 1618.1 1012.4 1621.0 1016.5 1623.8 1020.7 1626.5 1024.8 1629.3 1029.0 1632.0 1033.1 1634.6 1037.3 1637.3 1041.6 1639.9 1045.8 1642.6 1050.0 1645.1 1054.3 1647.7 1058.5 1650.3 1062.8 1652.8 1067.1 1655.3 1071.4 1657.8 1075.7 1660.3 1080.1 1662.8 1084.4 1665.2 1088.7 1667.7 1093.1 1670.1 1097.4 1672.6 1101.8 1675.0 1106.1 1677.4 1110.5 1679.8 1114.9 1682.2 1119.2 1684.6 1123.6 1687.1 1127.9 1689.5 1132.3 1691.9 1136.7 1694.3 1141.0 1696.7 1145.4 1699.1 1149.7 1701.5 1154.1 1704.0 1158.4 1706.4 1162.8 1708.8 1167.1 1711.3 1171.4 1713.8 1175.7 1716.2 1180.0 1718.7 1184.3 1721.2 1188.6 1723.8 1192.9 1726.3 1197.1 1728.9 1201.4 1731.5 1205.6 1734.1 1209.8 1736.7 1214.0 1739.3 1218.2 1742.0 1222.3 1744.7 1226.5 1747.4 1230.6 1750.2 1234.7 1752.9 1238.8 1755.8 1242.8 1758.6 1246.9 1761.5 1250.9 1764.4 1254.9 1767.3 1258.8 1770.3 1262.8 1773.3 1266.7 1776.4 1270.5 1779.5 1274.4 1782.6 1278.2 1785.8 1282.0 1789.0" stroke="#000000" stroke-width="11.3"/>
<path class="c" d="M255.3 1782.1L255.8 1783.8 256.3 1783.0 256.8 1780.2 257.4 1775.8 258.0 1770.4 258.5 1764.5 259.1 1758.5 259.7 1752.7 260.3 1747.1 261.0 1741.7 261.6 1736.5 262.3 1731.5 263.0 1726.5 263.7 1721.7 264.4 1716.9 265.1 1712.2 265.8 1707.5 266.6 1702.8 267.3 1698.1 268.1 1693.4 268.9 1688.6 269.7 1683.7 270.6 1678.7 271.4 1673.7 272.3 1668.5 273.3 1663.4 274.3 1658.2 275.5 1653.0 276.8 1647.9 278.2 1642.9 279.7 1637.9 281.5 1633.1 283.4 1628.4 285.5 1623.9 287.9 1619.6 290.5 1615.5 293.2 1611.6 296.1 1607.8 299.1 1604.0 302.0 1600.3 305.0 1596.5 307.8 1592.7 310.6 1588.8 313.3 1584.8 316.0 1580.8 318.6 1576.7 321.2 1572.6 323.7 1568.4 326.1 1564.2 328.5 1559.9 330.8 1555.6 333.0 1551.2 335.2 1546.8 337.4 1542.4 339.5 1537.9 341.5 1533.4 343.5 1528.8 345.4 1524.2 347.3 1519.6 349.2 1515.0 351.0 1510.3 352.7 1505.6 354.4 1500.9 356.1 1496.1 357.7 1491.4 359.3 1486.6 360.8 1481.8 362.4 1476.9 363.9 1472.1 365.4 1467.3 366.9 1462.4 368.3 1457.6 369.7 1452.7 371.2 1447.8 372.6 1442.9 374.0 1438.1 375.4 1433.2 376.9 1428.3 378.3 1423.4 379.7 1418.6 381.2 1413.7 382.6 1408.9 384.1 1404.0 385.6 1399.2 387.1 1394.4 388.6 1389.6 390.2 1384.8 391.8 1380.1 393.4 1375.3 395.1 1370.6 396.8 1365.9 398.5 1361.3 400.3 1356.6 402.1 1352.0 404.0 1347.4 405.8 1342.8 407.7 1338.2 409.7 1333.6 411.6 1329.1 413.6 1324.5 415.6 1320.0 417.7 1315.5 419.7 1311.0 421.8 1306.5 423.9 1302.0 426.1 1297.5 428.2 1293.0 430.4 1288.5 432.6 1284.0 434.8 1279.6 437.1 1275.1 439.3 1270.6 441.6 1266.1 443.9 1261.7 446.2 1257.2 448.5 1252.7 450.9 1248.2 453.2 1243.7 455.6 1239.2 458.0 1234.7 460.4 1230.1 462.8 1225.6 465.2 1221.1 467.7 1216.7 470.3 1212.3 473.0 1208.1 475.9 1204.1 479.0 1200.4 482.2 1196.9 485.7 1193.6 489.5 1190.8 493.6 1188.3 497.9 1186.3 502.3 1184.7 507.0 1183.6 511.7 1183.0 516.5 1183.0 521.4 1183.5 526.3 1184.5 531.1 1185.9 536.0 1187.6 540.7 1189.7 545.4 1192.1 549.9 1194.7 554.3 1197.5 558.6 1200.5 562.8 1203.6 566.9 1206.8 571.0 1210.0 575.1 1213.1 579.2 1216.2 583.3 1219.3 587.4 1222.3 591.4 1225.3 595.5 1228.2 599.6 1231.2 603.7 1234.1 607.7 1237.0 611.8 1239.9 615.8 1242.8 619.8 1245.7 623.8 1248.6 627.8 1251.6 631.7 1254.6 635.6 1257.6 639.5 1260.7 643.4 1263.8 647.2 1267.0 651.0 1270.1 654.8 1273.3 658.5 1276.6 662.3 1279.8 666.0 1283.1 669.6 1286.4 673.3 1289.8 677.0 1293.2 680.6 1296.6 684.2 1300.0 687.8 1303.4 691.3 1306.9 694.9 1310.4 698.4 1313.9 701.9 1317.5 705.4 1321.0 708.9 1324.6 712.3 1328.2 715.8 1331.8 719.2 1335.5 722.6 1339.1 726.0 1342.8 729.4 1346.5 732.8 1350.2 736.2 1353.9 739.5 1357.6 742.9 1361.4 746.2 1365.1 749.5 1368.9 752.9 1372.6 756.2 1376.4 759.5 1380.2 762.8 1384.0 766.1 1387.8 769.4 1391.6 772.6 1395.4 775.9 1399.2 779.2 1403.1 782.4 1406.9 785.7 1410.7 789.0 1414.6 792.2 1418.4 795.5 1422.2 798.7 1426.0 802.0 1429.9 805.3 1433.7 808.5 1437.5 811.8 1441.3 815.0 1445.2 818.3 1449.0 821.6 1452.8 824.9 1456.6 828.1 1460.4 831.4 1464.1 834.7 1467.9 838.0 1471.7 841.3 1475.4 844.7 1479.2 848.0 1482.9 851.3 1486.6 854.7 1490.3 858.0 1494.0 861.4 1497.7 864.8 1501.4 868.2 1505.0 871.6 1508.6 875.1 1512.3 878.5 1515.9 882.0 1519.4 885.5 1523.0 889.0 1526.5 892.6 1530.0 896.1 1533.5 899.7 1537.0 903.3 1540.5 906.9 1543.9 910.6 1547.3 914.2 1550.7 917.9 1554.0 921.7 1557.3 925.4 1560.6 929.2 1563.9 933.0 1567.1 936.8 1570.3 940.7 1573.5 944.6 1576.7 948.6 1579.8 952.5 1582.9 956.5 1585.9 960.6 1588.9 964.6 1591.9 968.7 1594.9 972.9 1597.8 977.0 1600.7 981.2 1603.5 985.4 1606.4 989.6 1609.2 993.9 1612.0 998.1 1614.8 1002.4 1617.6 1006.6 1620.4 1010.8 1623.2 1015.1 1626.0 1019.3 1628.8 1023.5 1631.6 1027.7 1634.4 1031.8 1637.3 1036.0 1640.1 1040.0 1643.0 1044.1 1645.9 1048.1 1648.8 1052.1 1651.8 1056.0 1654.8 1059.9 1657.8 1063.7 1660.9 1067.5 1664.1 1071.2 1667.2 1074.8 1670.4 1078.4 1673.6 1082.0 1676.8 1085.5 1679.9 1089.0 1683.0 1092.5 1686.0 1096.0 1688.9 1099.5 1691.6 1103.0 1694.2 1106.5 1696.7 1110.1 1699.1 1113.7 1701.6 1117.3 1704.1 1121.0 1706.6 1124.7 1709.0 1128.5 1711.4 1132.4 1713.8 1136.4 1716.1 1140.4 1718.3 1144.6 1720.4 1148.8 1722.5 1153.2 1724.4 1157.6 1726.3 1162.1 1728.1 1166.7 1729.9 1171.4 1731.6 1176.1 1733.2 1180.8 1734.8 1185.6 1736.4 1190.5 1737.9 1195.3 1739.4 1200.2 1740.9 1205.2 1742.4 1210.1 1743.9 1215.0 1745.4 1220.0 1747.0 1224.9 1748.5 1229.8 1750.1 1234.7 1751.7 1239.6 1753.4 1244.4 1755.1 1249.2 1756.9 1254.0 1758.8 1258.7 1760.7 1263.3 1762.7 1267.9 1764.8 1272.4 1767.0 1276.8 1769.3 1281.2 1771.8 1285.4 1774.3 1289.5 1777.0 1293.6 1779.7 1297.5 1782.7 1301.3 1785.8 1305.0 1789.0" stroke="#000" stroke-width="12.0"/>
<path d="M261.9 1734.4L268.5 1691.1 275.1 1654.8 281.7 1632.5 288.3 1618.9 294.9 1609.4 301.5 1601.0 308.1 1592.3 314.7 1582.7 321.3 1572.3 327.9 1560.9 334.5 1548.3 341.1 1534.3 347.7 1518.7 354.3 1501.2 360.9 1481.6 367.5 1460.2 374.1 1437.8 380.7 1415.2 387.3 1393.7 393.9 1374.0 400.5 1356.1 407.1 1339.7 413.7 1324.3 420.3 1309.7 426.9 1295.8 433.5 1282.3 440.1 1269.1 446.7 1256.2 453.3 1243.6 459.9 1231.0 466.5 1218.8 473.1 1208.0 479.7 1199.6 486.3 1193.2 492.9 1188.7 499.5 1185.7 506.1 1183.8 512.7 1183.0 519.3 1183.3 525.9 1184.4 532.5 1186.4 539.1 1189.0 545.7 1192.3 552.3 1196.2 558.9 1200.7 565.5 1205.7 572.1 1210.8 578.7 1215.9 585.3 1220.8 591.9 1225.6 598.5 1230.4 605.1 1235.1 611.7 1239.8 618.3 1244.6 624.9 1249.4 631.5 1254.4 638.1 1259.6 644.7 1264.9 651.3 1270.4 657.9 1276.0 664.5 1281.8 671.1 1287.8 677.7 1293.9 684.3 1300.1 690.9 1306.5 697.5 1313.1 704.1 1319.7 710.7 1326.5 717.3 1333.5 723.9 1340.5 730.5 1347.7 737.1 1354.9 743.7 1362.3 750.3 1369.7 756.9 1377.3 763.5 1384.8 770.1 1392.5 776.7 1400.2 783.3 1407.9 789.9 1415.6 796.5 1423.4 803.1 1431.2 809.7 1438.9 816.3 1446.6 822.9 1454.3 829.5 1461.9 836.1 1469.5 842.7 1477.0 849.3 1484.4 855.9 1491.7 862.5 1498.9 869.1 1505.9 875.7 1512.9 882.3 1519.7 888.9 1526.4 895.5 1532.9 902.1 1539.3 908.7 1545.5 915.3 1551.6 921.9 1557.5 928.5 1563.3 935.1 1568.9 941.7 1574.3 948.3 1579.6 954.9 1584.7 961.5 1589.6 968.1 1594.4 974.7 1599.0 981.3 1603.6 987.9 1608.0 994.5 1612.4 1001.1 1616.8 1007.7 1621.1 1014.3 1625.5 1020.9 1629.9 1027.5 1634.3 1034.1 1638.8 1040.7 1643.5 1047.3 1648.2 1053.9 1653.2 1060.5 1658.3 1067.1 1663.8 1073.7 1669.5 1080.3 1675.3 1086.9 1681.2 1093.5 1686.8 1100.1 1692.0 1106.7 1696.8 1113.3 1701.4 1119.9 1705.8 1126.5 1710.1 1133.1 1714.2 1139.7 1717.9 1146.3 1721.3 1152.9 1724.3 1159.5 1727.1 1166.1 1729.6 1172.7 1732.0 1179.3 1734.3 1185.9 1736.5 1192.5 1738.5 1199.1 1740.6 1205.7 1742.6 1212.3 1744.6 1218.9 1746.6 1225.5 1748.7 1232.1 1750.9 1238.7 1753.1 1245.3 1755.5 1251.9 1758.0 1258.5 1760.6 1265.1 1763.5 1271.7 1766.7 1278.3 1770.2 1284.9 1774.0 1291.5 1778.3 1298.1 1783.2 1304.7 1788.7" fill="none" stroke="none" marker-mid="url(#mb)"/>
<path class="c" d="M257.0 1787.0L257.5 1782.0 258.1 1777.0 258.7 1772.0 259.4 1767.0 260.1 1762.1 260.9 1757.1 261.7 1752.2 262.6 1747.2 263.5 1742.3 264.5 1737.4 265.5 1732.5 266.5 1727.6 267.6 1722.7 268.7 1717.8 269.8 1713.0 271.0 1708.1 272.3 1703.2 273.5 1698.4 274.8 1693.6 276.2 1688.7 277.5 1683.9 278.9 1679.1 280.3 1674.3 281.8 1669.5 283.3 1664.7 284.8 1659.9 286.3 1655.1 287.9 1650.3 289.4 1645.6 291.0 1640.8 292.7 1636.0 294.3 1631.3 296.0 1626.5 297.6 1621.8 299.3 1617.1 301.0 1612.3 302.8 1607.6 304.5 1602.9 306.2 1598.1 308.0 1593.4 309.8 1588.7 311.6 1584.0 313.3 1579.3 315.1 1574.6 316.9 1569.9 318.7 1565.2 320.6 1560.5 322.4 1555.8 324.2 1551.1 326.0 1546.4 327.8 1541.7 329.6 1537.0 331.4 1532.3 333.2 1527.6 335.0 1522.9 336.8 1518.2 338.5 1513.5 340.3 1508.8 342.0 1504.1 343.7 1499.4 345.4 1494.8 347.1 1490.1 348.7 1485.4 350.3 1480.7 351.9 1476.0 353.5 1471.3 355.0 1466.6 356.5 1461.9 358.0 1457.2 359.4 1452.5 360.8 1447.8 362.1 1443.1 363.4 1438.3 364.7 1433.6 366.0 1428.9 367.2 1424.2 368.5 1419.5 369.7 1414.7 371.0 1410.0 372.2 1405.3 373.5 1400.5 374.8 1395.8 376.1 1391.0 377.5 1386.3 378.8 1381.5 380.3 1376.7 381.7 1372.0 383.2 1367.2 384.7 1362.4 386.3 1357.6 387.9 1352.8 389.5 1348.0 391.1 1343.2 392.8 1338.4 394.4 1333.6 396.1 1328.7 397.8 1323.9 399.5 1319.1 401.2 1314.2 402.9 1309.4 404.7 1304.5 406.4 1299.6 408.1 1294.7 409.8 1289.8 411.5 1284.9 413.2 1280.0 414.9 1275.1 416.6 1270.2 418.3 1265.3 420.1 1260.4 421.9 1255.6 423.7 1250.7 425.5 1246.0 427.4 1241.2 429.4 1236.5 431.5 1231.9 433.6 1227.3 435.8 1222.8 438.1 1218.4 440.5 1214.0 443.0 1209.8 445.7 1205.6 448.4 1201.6 451.3 1197.6 454.4 1193.8 457.6 1190.1 460.9 1186.5 464.4 1183.0 468.1 1179.7 471.9 1176.6 475.9 1173.6 480.1 1170.9 484.3 1168.4 488.7 1166.1 493.1 1164.2 497.5 1162.6 502.0 1161.4 506.4 1160.6 510.9 1160.1 515.3 1160.2 519.7 1160.7 523.9 1161.6 528.2 1163.0 532.4 1164.8 536.5 1166.9 540.6 1169.4 544.6 1172.1 548.6 1175.1 552.5 1178.3 556.4 1181.7 560.2 1185.3 564.0 1189.0 567.8 1192.9 571.5 1196.8 575.2 1200.7 578.8 1204.6 582.4 1208.6 586.0 1212.4 589.6 1216.3 593.1 1220.1 596.6 1223.9 600.1 1227.6 603.5 1231.4 607.0 1235.1 610.4 1238.8 613.8 1242.5 617.2 1246.1 620.6 1249.8 623.9 1253.4 627.3 1257.1 630.6 1260.7 634.0 1264.3 637.3 1268.0 640.6 1271.6 644.0 1275.3 647.3 1278.9 650.6 1282.5 654.0 1286.2 657.4 1289.8 660.8 1293.4 664.2 1297.0 667.6 1300.6 671.1 1304.1 674.6 1307.6 678.1 1311.2 681.7 1314.6 685.3 1318.1 689.0 1321.6 692.7 1325.0 696.4 1328.4 700.2 1331.7 704.0 1335.1 707.8 1338.4 711.6 1341.7 715.4 1345.0 719.3 1348.3 723.1 1351.6 726.9 1354.8 730.8 1358.1 734.6 1361.3 738.3 1364.6 742.1 1367.8 745.8 1371.1 749.6 1374.4 753.2 1377.7 756.9 1381.1 760.4 1384.5 764.0 1387.9 767.5 1391.4 770.9 1394.9 774.2 1398.5 777.5 1402.1 780.8 1405.8 783.9 1409.6 787.0 1413.5 790.0 1417.4 792.9 1421.4 795.8 1425.5 798.6 1429.7 801.3 1433.9 804.0 1438.1 806.7 1442.4 809.3 1446.7 811.9 1451.1 814.6 1455.4 817.2 1459.8 819.8 1464.1 822.5 1468.4 825.2 1472.7 827.9 1477.0 830.7 1481.3 833.5 1485.5 836.3 1489.7 839.2 1493.9 842.0 1498.0 844.9 1502.1 847.9 1506.2 850.9 1510.3 853.9 1514.3 856.9 1518.3 860.0 1522.3 863.1 1526.3 866.2 1530.2 869.4 1534.1 872.6 1537.9 875.8 1541.7 879.1 1545.5 882.4 1549.3 885.7 1553.0 889.0 1556.6 892.4 1560.3 895.9 1563.9 899.3 1567.4 902.8 1571.0 906.4 1574.4 909.9 1577.9 913.5 1581.3 917.2 1584.7 920.9 1588.0 924.6 1591.3 928.3 1594.5 932.1 1597.7 935.9 1600.8 939.8 1603.9 943.7 1607.0 947.6 1610.0 951.6 1613.0 955.6 1615.9 959.6 1618.7 963.7 1621.6 967.8 1624.3 971.9 1627.1 976.1 1629.7 980.4 1632.3 984.6 1634.9 988.9 1637.4 993.3 1639.9 997.6 1642.3 1002.0 1644.7 1006.5 1647.0 1010.9 1649.3 1015.4 1651.6 1019.9 1653.8 1024.5 1656.0 1029.0 1658.2 1033.6 1660.4 1038.1 1662.6 1042.7 1664.7 1047.3 1666.8 1051.9 1669.0 1056.5 1671.1 1061.1 1673.2 1065.7 1675.4 1070.3 1677.5 1074.8 1679.7 1079.4 1681.8 1084.0 1684.0 1088.5 1686.3 1093.0 1688.5 1097.6 1690.7 1102.1 1693.0 1106.6 1695.3 1111.0 1697.5 1115.5 1699.8 1120.0 1702.0 1124.5 1704.2 1129.0 1706.3 1133.5 1708.4 1138.0 1710.5 1142.6 1712.5 1147.1 1714.4 1151.7 1716.2 1156.3 1717.9 1160.9 1719.6 1165.6 1721.1 1170.3 1722.6 1175.0 1723.9 1179.7 1725.2 1184.4 1726.4 1189.2 1727.6 1194.0 1728.7 1198.8 1729.8 1203.6 1730.9 1208.4 1732.0 1213.3 1733.0 1218.1 1734.2 1222.9 1735.3 1227.7 1736.5 1232.6 1737.7 1237.4 1739.0 1242.2 1740.4 1247.0 1741.9 1251.7 1743.5 1256.5 1745.2 1261.2 1747.1 1266.0 1749.0 1270.6 1751.2 1275.3 1753.4 1279.9 1755.8 1284.5 1758.3 1289.1 1760.8 1293.6 1763.4 1298.1 1766.1 1302.5 1768.8 1306.9 1771.4 1311.2 1774.1 1315.5 1776.8 1319.7 1779.4 1323.9 1781.9 1328.0 1784.4 1332.0 1786.7 1336.0 1789.0" stroke="#00ffff" stroke-width="12.3"/>
</g>
</g>
<g id="panelC">
<rect x="257.2" y="1787.0" width="1238.0" height="891.6" fill="#fff" stroke="#000" stroke-width="10.2"/>
<path d="M262.9 1792.0V2672.9H1490.2" fill="none" stroke="#c4c4c4" stroke-width="1.3"/>
<path d="M260.0 2031.3H278.0M260.0 2353.7H278.0M526.0 2675.6V2651.1M795.3 2675.6V2651.1M1064.6 2675.6V2651.1M1334.0 2675.6V2651.1" stroke="#000" stroke-width="10" stroke-linecap="round" fill="none"/>
<g>
<path class="c" d="M255.1 2665.4L255.3 2669.8 255.6 2672.4 256.0 2673.4 256.4 2673.0 256.8 2671.3 257.4 2668.5 257.9 2664.8 258.6 2660.2 259.3 2655.1 260.0 2649.4 260.8 2643.4 261.7 2637.2 262.5 2631.0 263.5 2625.0 264.5 2619.1 265.5 2613.5 266.5 2608.0 267.6 2602.6 268.7 2597.4 269.9 2592.3 271.1 2587.2 272.3 2582.2 273.5 2577.2 274.8 2572.3 276.0 2567.4 277.3 2562.5 278.7 2557.6 280.0 2552.8 281.3 2547.9 282.7 2543.1 284.1 2538.3 285.5 2533.6 286.8 2528.8 288.2 2524.0 289.6 2519.3 291.0 2514.6 292.4 2509.8 293.8 2505.1 295.2 2500.4 296.5 2495.6 297.9 2490.9 299.3 2486.2 300.6 2481.4 301.9 2476.7 303.2 2471.9 304.5 2467.1 305.8 2462.3 307.0 2457.5 308.3 2452.7 309.5 2447.9 310.7 2443.1 311.9 2438.2 313.1 2433.4 314.2 2428.5 315.4 2423.7 316.5 2418.8 317.7 2413.9 318.8 2409.0 319.9 2404.1 321.0 2399.2 322.1 2394.3 323.2 2389.4 324.3 2384.5 325.4 2379.6 326.5 2374.7 327.5 2369.8 328.6 2364.8 329.7 2359.9 330.7 2355.0 331.8 2350.0 332.9 2345.1 333.9 2340.2 335.0 2335.2 336.1 2330.3 337.1 2325.4 338.2 2320.4 339.3 2315.5 340.4 2310.6 341.5 2305.7 342.5 2300.7 343.6 2295.8 344.7 2290.9 345.9 2286.0 347.0 2281.1 348.1 2276.2 349.3 2271.3 350.4 2266.4 351.6 2261.5 352.8 2256.6 353.9 2251.7 355.1 2246.8 356.4 2242.0 357.6 2237.1 358.9 2232.3 360.1 2227.4 361.4 2222.6 362.7 2217.8 364.0 2213.0 365.3 2208.2 366.7 2203.4 368.1 2198.6 369.4 2193.8 370.8 2189.0 372.2 2184.2 373.7 2179.5 375.1 2174.7 376.5 2169.9 378.0 2165.2 379.4 2160.4 380.9 2155.6 382.4 2150.9 383.9 2146.1 385.4 2141.4 386.9 2136.6 388.4 2131.8 390.0 2127.0 391.5 2122.3 393.0 2117.5 394.6 2112.7 396.1 2107.9 397.7 2103.1 399.2 2098.3 400.8 2093.5 402.3 2088.7 403.9 2083.9 405.5 2079.0 407.0 2074.2 408.6 2069.4 410.2 2064.6 411.7 2059.7 413.3 2054.9 414.9 2050.1 416.4 2045.3 418.0 2040.5 419.6 2035.7 421.1 2031.0 422.7 2026.2 424.2 2021.5 425.7 2016.8 427.3 2012.1 428.8 2007.4 430.3 2002.8 431.8 1998.2 433.4 1993.6 434.9 1989.0 436.4 1984.5 438.0 1979.9 439.6 1975.4 441.2 1970.8 442.8 1966.2 444.6 1961.6 446.4 1957.0 448.2 1952.3 450.2 1947.6 452.2 1942.8 454.3 1938.0 456.5 1933.1 458.8 1928.1 461.3 1923.1 463.9 1918.0 466.6 1913.0 469.4 1908.0 472.4 1903.3 475.6 1898.9 478.9 1894.9 482.4 1891.4 486.1 1888.5 490.0 1886.2 494.0 1884.5 498.2 1883.5 502.4 1883.0 506.8 1883.0 511.2 1883.4 515.6 1884.4 520.0 1885.7 524.4 1887.4 528.8 1889.4 533.1 1891.8 537.4 1894.4 541.6 1897.3 545.7 1900.3 549.8 1903.6 553.7 1906.9 557.5 1910.4 561.1 1913.9 564.6 1917.5 568.0 1921.1 571.3 1924.8 574.5 1928.6 577.6 1932.4 580.6 1936.2 583.6 1940.1 586.5 1944.0 589.3 1947.9 592.1 1951.9 594.9 1955.8 597.7 1959.9 600.5 1963.9 603.3 1967.9 606.1 1972.0 609.0 1976.0 611.8 1980.1 614.8 1984.1 617.8 1988.2 620.8 1992.2 624.0 1996.2 627.2 2000.2 630.5 2004.2 633.9 2008.2 637.3 2012.2 640.7 2016.2 644.1 2020.1 647.5 2024.1 650.9 2028.0 654.3 2031.9 657.6 2035.8 660.9 2039.8 664.2 2043.6 667.4 2047.5 670.5 2051.4 673.7 2055.3 676.8 2059.2 679.9 2063.0 682.9 2066.9 686.0 2070.7 689.0 2074.6 692.0 2078.4 695.0 2082.3 698.0 2086.1 701.0 2090.0 704.0 2093.8 706.9 2097.6 709.9 2101.5 712.9 2105.3 715.9 2109.1 719.0 2113.0 722.0 2116.8 725.1 2120.6 728.1 2124.5 731.2 2128.3 734.3 2132.1 737.4 2136.0 740.5 2139.8 743.6 2143.7 746.7 2147.5 749.8 2151.4 752.9 2155.3 756.0 2159.1 759.1 2163.0 762.2 2166.9 765.3 2170.8 768.4 2174.7 771.5 2178.6 774.6 2182.5 777.7 2186.4 780.8 2190.4 783.8 2194.3 786.9 2198.3 789.9 2202.3 793.0 2206.2 796.0 2210.2 799.0 2214.2 802.0 2218.3 805.0 2222.3 807.9 2226.3 810.8 2230.4 813.8 2234.5 816.7 2238.5 819.6 2242.6 822.4 2246.7 825.3 2250.9 828.1 2255.0 831.0 2259.1 833.8 2263.3 836.5 2267.5 839.3 2271.6 842.1 2275.8 844.8 2280.0 847.5 2284.2 850.2 2288.5 852.9 2292.7 855.5 2296.9 858.1 2301.2 860.8 2305.5 863.4 2309.8 865.9 2314.0 868.5 2318.3 871.0 2322.7 873.5 2327.0 876.0 2331.3 878.5 2335.7 880.9 2340.0 883.3 2344.4 885.8 2348.8 888.1 2353.1 890.5 2357.5 892.8 2361.9 895.1 2366.4 897.4 2370.8 899.7 2375.2 901.9 2379.7 904.2 2384.1 906.4 2388.6 908.5 2393.1 910.7 2397.6 912.8 2402.1 914.9 2406.6 917.0 2411.1 919.0 2415.6 921.0 2420.1 923.0 2424.7 925.0 2429.2 927.0 2433.8 928.9 2438.3 930.8 2442.9 932.8 2447.5 934.8 2452.0 936.7 2456.5 938.8 2461.1 940.8 2465.6 943.0 2470.1 945.1 2474.5 947.4 2479.0 949.7 2483.4 952.1 2487.7 954.6 2492.1 957.2 2496.3 959.9 2500.6 962.7 2504.8 965.6 2508.9 968.7 2513.0 971.9 2517.0 975.2 2520.9 978.7 2524.7 982.2 2528.3 985.9 2531.8 989.6 2535.1 993.5 2538.2 997.5 2541.1 1001.5 2543.8 1005.7 2546.2 1009.9 2548.4 1014.3 2550.2 1018.7 2551.8 1023.2 2553.0 1027.7 2554.0 1032.3 2554.8 1037.0 2555.5 1041.8 2556.0 1046.6 2556.5 1051.5 2556.9 1056.4 2557.3 1061.4 2557.7 1066.4 2558.3 1071.4 2558.9 1076.4 2559.6 1081.4 2560.5 1086.4 2561.5 1091.3 2562.8 1096.1 2564.3 1100.8 2566.0 1105.4 2568.0 1109.9 2570.4 1114.3 2573.0 1118.6 2575.9 1122.7 2579.0 1126.8 2582.2 1130.9 2585.5 1134.9 2588.9 1138.8 2592.3 1142.8 2595.5 1146.8 2598.7 1150.8 2601.7 1154.9 2604.4 1159.0 2606.8 1163.2 2608.9 1167.5 2610.7 1171.9 2612.2 1176.4 2613.4 1180.9 2614.4 1185.5 2615.3 1190.1 2616.1 1194.7 2616.8 1199.4 2617.6 1204.1 2618.3 1208.8 2619.2 1213.4 2620.2 1218.1 2621.4 1222.8 2622.8 1227.4 2624.5 1232.0 2626.4 1236.6 2628.6 1241.1 2630.9 1245.6 2633.4 1250.1 2635.9 1254.6 2638.5 1259.1 2641.1 1263.5 2643.7 1267.9 2646.2 1272.3 2648.6 1276.7 2650.8 1281.1 2652.9 1285.5 2654.8 1289.9 2656.6 1294.2 2658.3 1298.6 2659.9 1303.0 2661.6 1307.3 2663.4 1311.7 2665.2 1316.1 2667.2 1320.4 2669.3 1324.8 2671.7 1329.2 2674.4 1333.6 2677.3 1338.0 2680.6" stroke="#000000" stroke-width="11.3"/>
<path class="c" d="M255.8 2665.4L255.9 2670.7 256.1 2674.0 256.4 2675.5 256.7 2675.3 257.2 2673.6 257.7 2670.7 258.2 2666.6 258.9 2661.7 259.6 2656.1 260.3 2649.9 261.1 2643.4 262.0 2636.8 262.9 2630.3 263.9 2624.0 264.9 2618.0 266.0 2612.2 267.1 2606.8 268.3 2601.5 269.5 2596.4 270.7 2591.4 272.0 2586.6 273.2 2581.7 274.6 2576.9 275.9 2572.1 277.3 2567.3 278.7 2562.6 280.1 2557.8 281.5 2553.1 283.0 2548.3 284.4 2543.6 285.9 2538.9 287.3 2534.1 288.8 2529.4 290.3 2524.7 291.7 2520.0 293.2 2515.2 294.7 2510.5 296.1 2505.8 297.5 2501.0 299.0 2496.3 300.4 2491.5 301.7 2486.8 303.1 2482.0 304.4 2477.2 305.7 2472.4 307.0 2467.6 308.3 2462.8 309.5 2457.9 310.7 2453.1 311.9 2448.2 313.0 2443.3 314.2 2438.4 315.3 2433.5 316.4 2428.6 317.5 2423.7 318.5 2418.8 319.6 2413.9 320.6 2408.9 321.7 2404.0 322.7 2399.0 323.7 2394.1 324.7 2389.1 325.7 2384.2 326.7 2379.2 327.7 2374.2 328.7 2369.3 329.7 2364.3 330.7 2359.3 331.7 2354.4 332.7 2349.4 333.7 2344.4 334.7 2339.5 335.7 2334.5 336.8 2329.6 337.8 2324.6 338.8 2319.7 339.9 2314.8 341.0 2309.8 342.1 2304.9 343.2 2300.0 344.3 2295.1 345.5 2290.2 346.6 2285.3 347.8 2280.4 349.0 2275.6 350.3 2270.7 351.5 2265.9 352.8 2261.0 354.1 2256.2 355.4 2251.4 356.8 2246.6 358.2 2241.8 359.5 2237.0 360.9 2232.3 362.4 2227.5 363.8 2222.7 365.3 2218.0 366.7 2213.2 368.2 2208.5 369.7 2203.7 371.2 2199.0 372.7 2194.3 374.3 2189.5 375.8 2184.8 377.3 2180.1 378.9 2175.4 380.4 2170.6 382.0 2165.9 383.6 2161.2 385.1 2156.4 386.7 2151.7 388.3 2147.0 389.9 2142.3 391.4 2137.5 393.0 2132.8 394.6 2128.0 396.1 2123.3 397.7 2118.5 399.3 2113.8 400.8 2109.0 402.4 2104.2 403.9 2099.4 405.4 2094.6 407.0 2089.8 408.5 2085.0 410.0 2080.2 411.5 2075.4 412.9 2070.6 414.4 2065.7 415.8 2060.8 417.3 2056.0 418.7 2051.1 420.1 2046.2 421.5 2041.3 422.9 2036.4 424.4 2031.5 425.8 2026.6 427.2 2021.7 428.7 2016.8 430.2 2011.9 431.7 2007.1 433.3 2002.3 434.9 1997.4 436.6 1992.7 438.3 1987.9 440.1 1983.2 441.9 1978.5 443.8 1973.8 445.8 1969.2 447.8 1964.6 450.0 1960.0 452.2 1955.5 454.5 1951.1 456.9 1946.7 459.4 1942.4 462.1 1938.1 464.8 1933.9 467.7 1929.7 470.7 1925.7 473.8 1921.7 477.0 1917.8 480.4 1914.1 483.8 1910.5 487.4 1907.2 491.2 1904.1 495.0 1901.2 499.0 1898.6 503.1 1896.3 507.3 1894.4 511.6 1892.8 515.9 1891.6 520.4 1890.8 524.8 1890.5 529.2 1890.6 533.6 1891.2 537.9 1892.1 542.3 1893.5 546.6 1895.3 550.9 1897.3 555.1 1899.7 559.3 1902.4 563.5 1905.3 567.6 1908.4 571.6 1911.7 575.7 1915.1 579.6 1918.7 583.5 1922.4 587.4 1926.1 591.2 1929.9 594.9 1933.7 598.6 1937.5 602.2 1941.4 605.7 1945.2 609.2 1949.1 612.7 1953.0 616.0 1957.0 619.4 1960.9 622.7 1964.9 625.9 1968.9 629.1 1972.9 632.2 1977.0 635.3 1981.0 638.4 1985.1 641.4 1989.2 644.4 1993.3 647.3 1997.4 650.2 2001.6 653.1 2005.7 656.0 2009.9 658.8 2014.0 661.5 2018.2 664.3 2022.4 667.0 2026.6 669.7 2030.8 672.4 2035.1 675.0 2039.3 677.6 2043.6 680.2 2047.8 682.8 2052.1 685.4 2056.4 687.9 2060.6 690.5 2064.9 693.0 2069.2 695.5 2073.5 698.0 2077.8 700.5 2082.1 703.0 2086.4 705.5 2090.7 708.0 2095.0 710.5 2099.3 712.9 2103.6 715.4 2107.9 717.9 2112.2 720.4 2116.5 722.9 2120.8 725.4 2125.1 727.9 2129.4 730.4 2133.7 732.9 2137.9 735.4 2142.2 738.0 2146.5 740.5 2150.8 743.1 2155.0 745.7 2159.3 748.3 2163.5 750.9 2167.8 753.5 2172.0 756.2 2176.2 758.8 2180.5 761.5 2184.7 764.1 2188.9 766.8 2193.1 769.5 2197.3 772.2 2201.5 774.9 2205.7 777.7 2209.9 780.4 2214.0 783.2 2218.2 785.9 2222.4 788.7 2226.5 791.5 2230.6 794.3 2234.8 797.2 2238.9 800.0 2243.0 802.9 2247.1 805.7 2251.2 808.6 2255.3 811.5 2259.4 814.4 2263.5 817.4 2267.5 820.3 2271.6 823.3 2275.6 826.2 2279.7 829.2 2283.7 832.2 2287.7 835.3 2291.7 838.3 2295.7 841.4 2299.7 844.4 2303.7 847.5 2307.6 850.6 2311.6 853.7 2315.5 856.9 2319.5 860.0 2323.4 863.2 2327.3 866.4 2331.2 869.6 2335.1 872.8 2338.9 876.0 2342.8 879.2 2346.7 882.5 2350.5 885.8 2354.3 889.1 2358.1 892.4 2361.9 895.7 2365.7 899.1 2369.5 902.4 2373.3 905.8 2377.0 909.1 2380.8 912.5 2384.5 915.8 2388.2 919.2 2391.9 922.6 2395.6 925.9 2399.3 929.3 2402.9 932.6 2406.6 935.9 2410.2 939.3 2413.8 942.6 2417.4 945.9 2421.0 949.2 2424.5 952.4 2428.1 955.7 2431.6 958.9 2435.2 962.1 2438.7 965.3 2442.2 968.5 2445.6 971.6 2449.1 974.8 2452.5 977.9 2456.0 981.1 2459.4 984.2 2462.8 987.4 2466.2 990.6 2469.5 993.8 2472.9 997.1 2476.2 1000.3 2479.5 1003.6 2482.8 1007.0 2486.1 1010.4 2489.4 1013.8 2492.6 1017.3 2495.8 1020.8 2499.0 1024.3 2502.2 1027.9 2505.4 1031.5 2508.6 1035.1 2511.7 1038.8 2514.9 1042.5 2518.0 1046.2 2521.1 1050.0 2524.2 1053.8 2527.3 1057.6 2530.3 1061.5 2533.4 1065.3 2536.4 1069.2 2539.4 1073.2 2542.4 1077.1 2545.4 1081.1 2548.4 1085.1 2551.4 1089.1 2554.3 1093.1 2557.3 1097.2 2560.2 1101.3 2563.1 1105.3 2566.0 1109.5 2568.9 1113.6 2571.8 1117.7 2574.7 1121.9 2577.6 1126.0 2580.4 1130.2 2583.2 1134.4 2586.1 1138.6 2588.9 1142.8 2591.7 1147.0 2594.5 1151.3 2597.3 1155.5 2600.1 1159.8 2602.9 1164.0 2605.6 1168.3 2608.4 1172.5 2611.2 1176.8 2613.9 1181.1 2616.6 1185.3 2619.4 1189.6 2622.1 1193.9 2624.8 1198.1 2627.5 1202.4 2630.2 1206.7 2632.9 1210.9 2635.6 1215.2 2638.3 1219.4 2641.0 1223.7 2643.6 1227.9 2646.3 1232.1 2649.0 1236.4 2651.6 1240.6 2654.3 1244.8 2656.9 1249.0 2659.6 1253.2 2662.2 1257.3 2664.8 1261.5 2667.5 1265.6 2670.1 1269.7 2672.7 1273.8 2675.3 1277.9 2678.0 1282.0 2680.6" stroke="#04044a" stroke-width="10.6"/>
<path class="c" d="M256.8 2665.4L257.2 2670.1 257.7 2672.9 258.2 2674.1 258.8 2673.8 259.4 2672.2 260.0 2669.4 260.7 2665.6 261.4 2661.1 262.2 2655.8 263.0 2650.0 263.9 2643.9 264.7 2637.6 265.7 2631.3 266.6 2625.1 267.6 2619.1 268.6 2613.4 269.7 2607.8 270.8 2602.3 271.9 2597.0 273.1 2591.9 274.2 2586.8 275.4 2581.8 276.7 2576.8 277.9 2571.9 279.2 2567.0 280.5 2562.2 281.9 2557.4 283.2 2552.7 284.6 2547.9 286.0 2543.2 287.4 2538.6 288.9 2533.9 290.3 2529.2 291.8 2524.6 293.3 2520.0 294.8 2515.3 296.3 2510.7 297.8 2506.1 299.3 2501.4 300.9 2496.8 302.4 2492.1 304.0 2487.4 305.6 2482.7 307.1 2478.0 308.7 2473.3 310.3 2468.6 311.9 2463.9 313.5 2459.2 315.1 2454.5 316.7 2449.7 318.3 2445.0 319.9 2440.2 321.5 2435.5 323.1 2430.7 324.6 2425.9 326.2 2421.2 327.8 2416.4 329.4 2411.6 330.9 2406.8 332.5 2402.0 334.0 2397.2 335.5 2392.3 337.1 2387.5 338.6 2382.7 340.0 2377.8 341.5 2373.0 343.0 2368.1 344.4 2363.3 345.9 2358.4 347.3 2353.5 348.7 2348.7 350.1 2343.8 351.5 2338.9 352.9 2334.0 354.2 2329.2 355.6 2324.3 357.0 2319.4 358.3 2314.5 359.7 2309.6 361.0 2304.8 362.4 2299.9 363.7 2295.0 365.0 2290.1 366.4 2285.3 367.7 2280.4 369.1 2275.5 370.5 2270.7 371.8 2265.8 373.2 2261.0 374.6 2256.1 375.9 2251.3 377.3 2246.5 378.7 2241.7 380.1 2236.9 381.6 2232.1 383.0 2227.3 384.5 2222.5 385.9 2217.8 387.4 2213.0 388.9 2208.3 390.4 2203.6 391.9 2198.9 393.5 2194.2 395.1 2189.5 396.6 2184.8 398.3 2180.2 399.9 2175.5 401.6 2170.9 403.3 2166.3 405.0 2161.8 406.7 2157.2 408.5 2152.6 410.3 2148.1 412.1 2143.6 413.9 2139.1 415.8 2134.6 417.8 2130.1 419.7 2125.6 421.7 2121.1 423.7 2116.6 425.8 2112.1 427.8 2107.6 430.0 2103.1 432.1 2098.6 434.3 2094.0 436.6 2089.5 438.8 2084.9 441.1 2080.3 443.5 2075.6 445.9 2071.0 448.3 2066.3 450.8 2061.6 453.3 2056.8 455.9 2052.0 458.5 2047.3 461.2 2042.5 464.0 2037.8 466.8 2033.3 469.7 2028.8 472.7 2024.5 475.9 2020.4 479.1 2016.5 482.4 2012.8 485.8 2009.4 489.4 2006.3 493.1 2003.5 497.0 2001.1 501.0 1999.0 505.2 1997.4 509.5 1996.2 513.9 1995.4 518.5 1995.0 523.1 1995.0 527.8 1995.3 532.5 1996.0 537.2 1996.9 541.9 1998.2 546.6 1999.7 551.2 2001.5 555.7 2003.5 560.1 2005.7 564.4 2008.1 568.6 2010.7 572.7 2013.5 576.8 2016.4 580.8 2019.5 584.7 2022.7 588.6 2026.0 592.4 2029.5 596.1 2033.0 599.8 2036.6 603.5 2040.2 607.1 2044.0 610.7 2047.7 614.3 2051.5 617.8 2055.3 621.4 2059.0 624.9 2062.8 628.4 2066.6 631.9 2070.3 635.4 2074.1 638.8 2077.8 642.3 2081.5 645.7 2085.3 649.1 2089.0 652.5 2092.7 655.9 2096.4 659.3 2100.2 662.6 2103.9 666.0 2107.6 669.3 2111.4 672.6 2115.1 675.9 2118.9 679.1 2122.7 682.4 2126.5 685.6 2130.2 688.8 2134.1 691.9 2137.9 695.1 2141.7 698.2 2145.5 701.4 2149.4 704.5 2153.3 707.6 2157.1 710.6 2161.0 713.7 2164.9 716.8 2168.8 719.8 2172.7 722.8 2176.6 725.8 2180.6 728.8 2184.5 731.8 2188.5 734.8 2192.4 737.8 2196.4 740.8 2200.3 743.7 2204.3 746.7 2208.3 749.6 2212.3 752.6 2216.3 755.5 2220.3 758.4 2224.3 761.4 2228.3 764.3 2232.3 767.2 2236.3 770.2 2240.3 773.1 2244.3 776.0 2248.4 779.0 2252.4 781.9 2256.4 784.8 2260.5 787.8 2264.5 790.7 2268.5 793.6 2272.6 796.6 2276.6 799.6 2280.6 802.5 2284.7 805.5 2288.7 808.5 2292.7 811.5 2296.8 814.5 2300.8 817.5 2304.9 820.5 2308.9 823.5 2312.9 826.5 2316.9 829.6 2321.0 832.6 2325.0 835.7 2329.0 838.7 2333.0 841.8 2337.0 844.9 2341.0 848.0 2345.1 851.1 2349.0 854.2 2353.0 857.3 2357.0 860.4 2361.0 863.5 2365.0 866.6 2369.0 869.8 2372.9 872.9 2376.9 876.1 2380.8 879.2 2384.8 882.4 2388.7 885.6 2392.6 888.8 2396.5 892.0 2400.4 895.2 2404.3 898.4 2408.2 901.6 2412.1 904.8 2416.0 908.1 2419.8 911.3 2423.7 914.5 2427.5 917.8 2431.3 921.1 2435.1 924.3 2438.9 927.6 2442.7 930.9 2446.5 934.2 2450.2 937.5 2454.0 940.8 2457.7 944.2 2461.4 947.5 2465.1 950.8 2468.8 954.2 2472.5 957.5 2476.2 960.9 2479.8 964.3 2483.4 967.7 2487.0 971.1 2490.6 974.6 2494.2 978.0 2497.7 981.5 2501.3 985.0 2504.8 988.5 2508.3 992.0 2511.7 995.5 2515.2 999.1 2518.6 1002.7 2522.0 1006.3 2525.4 1009.9 2528.8 1013.6 2532.1 1017.3 2535.4 1021.0 2538.7 1024.7 2542.0 1028.5 2545.2 1032.3 2548.4 1036.2 2551.6 1040.0 2554.7 1043.9 2557.9 1047.8 2561.0 1051.8 2564.0 1055.8 2567.1 1059.8 2570.1 1063.9 2573.1 1068.0 2576.0 1072.1 2579.0 1076.3 2581.8 1080.5 2584.7 1084.8 2587.5 1089.0 2590.3 1093.3 2593.0 1097.7 2595.7 1102.0 2598.4 1106.4 2601.0 1110.9 2603.6 1115.3 2606.1 1119.8 2608.6 1124.3 2611.1 1128.8 2613.5 1133.3 2615.8 1137.9 2618.1 1142.5 2620.3 1147.1 2622.5 1151.7 2624.7 1156.3 2626.7 1161.0 2628.8 1165.6 2630.7 1170.3 2632.6 1175.0 2634.5 1179.7 2636.3 1184.3 2638.2 1188.8 2640.0 1193.3 2642.0 1197.7 2644.0 1201.9 2646.2 1206.0 2648.5 1209.9 2651.0 1213.6 2653.7 1217.1 2656.6 1220.3 2659.8 1223.3 2663.2 1225.9 2667.0 1228.3 2671.2 1230.3 2675.7 1232.0 2680.6" stroke="#00ffff" stroke-width="12.3"/>
<path class="c" d="M257.0 2678.6L258.6 2673.9 260.2 2669.1 261.8 2664.3 263.4 2659.6 265.0 2654.8 266.6 2650.1 268.2 2645.3 269.8 2640.6 271.3 2635.8 272.9 2631.0 274.5 2626.3 276.0 2621.5 277.5 2616.7 279.1 2611.9 280.6 2607.2 282.1 2602.4 283.6 2597.6 285.1 2592.8 286.6 2588.0 288.1 2583.2 289.6 2578.4 291.0 2573.6 292.5 2568.9 294.0 2564.1 295.4 2559.3 296.9 2554.5 298.3 2549.7 299.7 2544.9 301.2 2540.0 302.6 2535.2 304.0 2530.4 305.4 2525.6 306.8 2520.8 308.2 2516.0 309.6 2511.2 311.0 2506.4 312.3 2501.5 313.7 2496.7 315.1 2491.9 316.4 2487.1 317.8 2482.2 319.1 2477.4 320.5 2472.6 321.8 2467.8 323.1 2462.9 324.4 2458.1 325.8 2453.3 327.1 2448.4 328.4 2443.6 329.7 2438.7 331.0 2433.9 332.3 2429.1 333.5 2424.2 334.8 2419.4 336.1 2414.5 337.3 2409.7 338.6 2404.8 339.9 2400.0 341.1 2395.1 342.3 2390.3 343.6 2385.4 344.8 2380.5 346.0 2375.7 347.3 2370.8 348.5 2366.0 349.7 2361.1 350.9 2356.2 352.1 2351.4 353.3 2346.5 354.5 2341.6 355.7 2336.8 356.9 2331.9 358.1 2327.0 359.3 2322.2 360.4 2317.3 361.6 2312.4 362.8 2307.6 364.0 2302.7 365.2 2297.8 366.4 2293.0 367.5 2288.1 368.7 2283.2 369.9 2278.4 371.1 2273.5 372.3 2268.6 373.5 2263.7 374.7 2258.9 375.9 2254.0 377.1 2249.1 378.3 2244.3 379.5 2239.4 380.7 2234.5 381.9 2229.7 383.1 2224.8 384.3 2220.0 385.6 2215.1 386.8 2210.2 388.0 2205.4 389.3 2200.5 390.5 2195.7 391.8 2190.8 393.1 2186.0 394.3 2181.1 395.6 2176.3 396.9 2171.4 398.2 2166.6 399.5 2161.7 400.8 2156.9 402.2 2152.0 403.5 2147.2 404.8 2142.4 406.2 2137.5 407.6 2132.7 409.0 2127.9 410.4 2123.1 411.8 2118.3 413.2 2113.4 414.7 2108.6 416.1 2103.8 417.6 2099.0 419.2 2094.3 420.7 2089.5 422.3 2084.7 423.9 2080.0 425.5 2075.2 427.2 2070.5 428.9 2065.8 430.7 2061.1 432.5 2056.4 434.3 2051.7 436.2 2047.0 438.1 2042.4 440.1 2037.8 442.1 2033.1 444.2 2028.5 446.3 2024.0 448.4 2019.4 450.7 2014.9 452.9 2010.4 455.3 2005.9 457.7 2001.4 460.1 1996.9 462.7 1992.5 465.3 1988.2 468.0 1983.9 470.7 1979.7 473.6 1975.6 476.6 1971.6 479.7 1967.8 483.0 1964.2 486.3 1960.7 489.8 1957.4 493.5 1954.3 497.3 1951.5 501.3 1948.9 505.4 1946.5 509.7 1944.5 514.2 1942.7 518.8 1941.2 523.6 1940.1 528.5 1939.2 533.4 1938.5 538.4 1938.2 543.5 1938.2 548.5 1938.4 553.6 1938.9 558.6 1939.7 563.5 1940.8 568.4 1942.1 573.2 1943.7 577.8 1945.6 582.3 1947.8 586.6 1950.2 590.8 1952.8 594.9 1955.7 598.8 1958.7 602.7 1962.0 606.3 1965.4 609.9 1969.0 613.4 1972.8 616.7 1976.6 619.9 1980.6 623.1 1984.6 626.1 1988.8 629.1 1993.0 632.0 1997.2 634.8 2001.5 637.5 2005.8 640.2 2010.1 642.8 2014.4 645.4 2018.8 647.9 2023.2 650.3 2027.5 652.7 2031.9 655.1 2036.3 657.4 2040.7 659.7 2045.1 662.0 2049.5 664.3 2053.9 666.6 2058.3 668.8 2062.7 671.1 2067.2 673.3 2071.6 675.6 2076.0 677.8 2080.4 680.1 2084.8 682.4 2089.1 684.8 2093.5 687.1 2097.9 689.5 2102.2 691.9 2106.6 694.3 2110.9 696.8 2115.2 699.3 2119.6 701.8 2123.9 704.3 2128.2 706.8 2132.5 709.3 2136.8 711.9 2141.0 714.5 2145.3 717.1 2149.6 719.7 2153.9 722.3 2158.1 725.0 2162.4 727.6 2166.6 730.3 2170.9 733.0 2175.1 735.7 2179.3 738.4 2183.6 741.1 2187.8 743.8 2192.0 746.5 2196.3 749.2 2200.5 752.0 2204.7 754.7 2208.9 757.5 2213.1 760.3 2217.3 763.0 2221.5 765.8 2225.7 768.6 2229.9 771.4 2234.2 774.1 2238.4 776.9 2242.6 779.7 2246.8 782.5 2251.0 785.3 2255.2 788.0 2259.4 790.8 2263.6 793.6 2267.8 796.4 2272.0 799.1 2276.2 801.9 2280.4 804.7 2284.7 807.4 2288.9 810.2 2293.1 812.9 2297.3 815.6 2301.6 818.4 2305.8 821.1 2310.0 823.8 2314.3 826.5 2318.5 829.1 2322.8 831.8 2327.1 834.5 2331.3 837.1 2335.6 839.8 2339.9 842.4 2344.1 845.0 2348.4 847.6 2352.7 850.1 2357.0 852.7 2361.3 855.2 2365.7 857.7 2370.0 860.2 2374.3 862.7 2378.6 865.2 2383.0 867.7 2387.3 870.2 2391.6 872.7 2396.0 875.1 2400.3 877.6 2404.6 880.1 2409.0 882.6 2413.3 885.1 2417.6 887.6 2421.9 890.1 2426.2 892.6 2430.4 895.1 2434.7 897.7 2438.9 900.2 2443.2 902.8 2447.4 905.4 2451.6 908.1 2455.8 910.7 2459.9 913.4 2464.1 916.1 2468.2 918.9 2472.3 921.7 2476.4 924.5 2480.4 927.4 2484.4 930.3 2488.4 933.2 2492.4 936.2 2496.3 939.2 2500.2 942.3 2504.0 945.4 2507.9 948.6 2511.6 951.9 2515.4 955.1 2519.1 958.5 2522.8 961.9 2526.4 965.4 2530.0 968.9 2533.6 972.5 2537.1 976.1 2540.5 979.9 2543.9 983.6 2547.3 987.4 2550.6 991.3 2553.8 995.2 2557.0 999.2 2560.2 1003.2 2563.2 1007.3 2566.2 1011.4 2569.2 1015.6 2572.0 1019.8 2574.8 1024.0 2577.5 1028.3 2580.2 1032.6 2582.8 1037.0 2585.2 1041.4 2587.7 1045.8 2590.0 1050.2 2592.2 1054.7 2594.4 1059.2 2596.4 1063.7 2598.4 1068.2 2600.3 1072.8 2602.1 1077.4 2603.8 1082.0 2605.4 1086.6 2607.0 1091.2 2608.5 1095.8 2610.0 1100.5 2611.5 1105.1 2613.0 1109.8 2614.4 1114.5 2615.9 1119.1 2617.3 1123.8 2618.8 1128.5 2620.3 1133.1 2621.9 1137.8 2623.5 1142.4 2625.1 1147.1 2626.9 1151.7 2628.7 1156.4 2630.6 1161.0 2632.6 1165.6 2634.8 1170.2 2637.0 1174.7 2639.3 1179.3 2641.8 1183.8 2644.2 1188.3 2646.7 1192.7 2649.2 1197.2 2651.6 1201.5 2654.0 1205.9 2656.3 1210.2 2658.4 1214.5 2660.4 1218.7 2662.2 1222.8 2663.8 1226.9 2665.2 1231.0 2666.3 1234.8 2667.3 1238.5 2668.3 1241.8 2669.6 1244.7 2671.3 1247.1 2673.6 1248.9 2676.6 1250.0 2680.6" stroke="#0000ee" stroke-width="12.0"/>
<path d="M263.5 2659.5L270.0 2639.9 276.5 2619.9 283.0 2599.5 289.5 2578.7 296.0 2557.4 302.5 2535.6 309.0 2513.3 315.5 2490.4 322.0 2467.1 328.5 2443.2 335.0 2418.7 341.5 2393.6 348.0 2367.9 354.5 2341.7 361.0 2315.1 367.5 2288.3 374.0 2261.6 380.5 2235.3 387.0 2209.4 393.5 2184.3 400.0 2160.0 406.5 2136.5 413.0 2114.1 419.5 2093.2 426.0 2074.0 432.5 2056.4 439.0 2040.3 445.5 2025.7 452.0 2012.2 458.5 1999.9 465.0 1988.6 471.5 1978.6 478.0 1970.0 484.5 1962.6 491.0 1956.4 497.5 1951.3 504.0 1947.3 510.5 1944.2 517.0 1941.8 523.5 1940.1 530.0 1939.0 536.5 1938.3 543.0 1938.2 549.5 1938.5 556.0 1939.3 562.5 1940.5 569.0 1942.3 575.5 1944.7 582.0 1947.6 588.5 1951.3 595.0 1955.7 601.5 1961.0 608.0 1967.1 614.5 1974.1 621.0 1981.9 627.5 1990.7 634.0 2000.3 640.5 2010.6 647.0 2021.6 653.5 2033.3 660.0 2045.6 666.5 2058.2 673.0 2070.9 679.5 2083.5 686.0 2095.8 692.5 2107.6 699.0 2119.1 705.5 2130.2 712.0 2141.2 718.5 2151.9 725.0 2162.4 731.5 2172.8 738.0 2183.0 744.5 2193.1 751.0 2203.1 757.5 2213.1 764.0 2223.0 770.5 2232.8 777.0 2242.7 783.5 2252.5 790.0 2262.3 796.5 2272.2 803.0 2282.1 809.5 2292.1 816.0 2302.1 822.5 2312.3 829.0 2322.5 835.5 2333.0 842.0 2343.5 848.5 2354.3 855.0 2365.3 861.5 2376.5 868.0 2387.8 874.5 2399.2 881.0 2410.5 887.5 2421.8 894.0 2432.8 900.5 2443.6 907.0 2454.1 913.5 2464.2 920.0 2473.9 926.5 2483.2 933.0 2492.0 939.5 2500.5 946.0 2508.5 952.5 2516.1 959.0 2523.3 965.5 2530.1 972.0 2536.6 978.5 2542.7 985.0 2548.5 991.5 2554.0 998.0 2559.2 1004.5 2564.1 1011.0 2568.8 1017.5 2573.3 1024.0 2577.5 1030.5 2581.5 1037.0 2585.3 1043.5 2588.8 1050.0 2592.1 1056.5 2595.2 1063.0 2598.1 1069.5 2600.8 1076.0 2603.3 1082.5 2605.6 1089.0 2607.8 1095.5 2609.9 1102.0 2612.0 1108.5 2614.0 1115.0 2616.0 1121.5 2618.1 1128.0 2620.2 1134.5 2622.3 1141.0 2624.6 1147.5 2627.0 1154.0 2629.6 1160.5 2632.4 1167.0 2635.4 1173.5 2638.7 1180.0 2642.2 1186.5 2645.7 1193.0 2649.3 1199.5 2652.9 1206.0 2656.3 1212.5 2659.5 1219.0 2662.3 1225.5 2664.7 1232.0 2666.6 1238.5 2668.3 1245.0 2671.6" fill="none" stroke="none" marker-mid="url(#mc)"/>
</g>
</g>
<g id="panelD">
<rect x="257.2" y="2678.6" width="1238.0" height="892.2" fill="#fff" stroke="#000" stroke-width="10.2"/>
<path d="M262.9 2683.6V3565.1H1490.2" fill="none" stroke="#c4c4c4" stroke-width="1.3"/>
<path d="M260.0 2921.4H278.0M260.0 3246.0H278.0M526.0 3567.8V3543.3M795.3 3567.8V3543.3M1064.6 3567.8V3543.3M1334.0 3567.8V3543.3" stroke="#000" stroke-width="10" stroke-linecap="round" fill="none"/>
<g clip-path="url(#clipD)">
<path class="c" d="M257.0 3570.8L259.2 3566.3 261.4 3561.8 263.5 3557.3 265.5 3552.7 267.6 3548.1 269.5 3543.5 271.5 3538.9 273.4 3534.3 275.2 3529.7 277.0 3525.1 278.8 3520.4 280.5 3515.7 282.2 3511.0 283.9 3506.3 285.5 3501.6 287.1 3496.9 288.7 3492.1 290.2 3487.4 291.7 3482.6 293.1 3477.8 294.6 3473.0 295.9 3468.2 297.3 3463.4 298.7 3458.6 300.0 3453.8 301.2 3448.9 302.5 3444.1 303.7 3439.2 304.9 3434.3 306.1 3429.5 307.3 3424.6 308.4 3419.7 309.5 3414.8 310.6 3409.9 311.7 3405.0 312.7 3400.0 313.8 3395.1 314.8 3390.2 315.8 3385.2 316.8 3380.3 317.8 3375.3 318.7 3370.4 319.7 3365.4 320.6 3360.5 321.5 3355.5 322.4 3350.5 323.3 3345.6 324.2 3340.6 325.1 3335.6 325.9 3330.6 326.8 3325.7 327.7 3320.7 328.5 3315.7 329.3 3310.7 330.2 3305.7 331.0 3300.8 331.9 3295.8 332.7 3290.8 333.5 3285.8 334.4 3280.8 335.2 3275.9 336.0 3270.9 336.9 3265.9 337.7 3261.0 338.5 3256.0 339.4 3251.0 340.3 3246.1 341.1 3241.1 342.0 3236.2 342.9 3231.2 343.7 3226.3 344.6 3221.4 345.5 3216.4 346.4 3211.5 347.4 3206.6 348.3 3201.7 349.3 3196.8 350.2 3191.9 351.2 3187.0 352.2 3182.1 353.2 3177.3 354.2 3172.4 355.3 3167.5 356.3 3162.7 357.4 3157.8 358.5 3153.0 359.5 3148.2 360.6 3143.3 361.7 3138.5 362.9 3133.7 364.0 3128.9 365.1 3124.0 366.2 3119.2 367.4 3114.4 368.5 3109.6 369.7 3104.8 370.9 3099.9 372.0 3095.1 373.2 3090.3 374.4 3085.5 375.6 3080.7 376.7 3075.9 377.9 3071.0 379.1 3066.2 380.3 3061.4 381.5 3056.5 382.7 3051.7 383.9 3046.9 385.1 3042.0 386.2 3037.2 387.4 3032.3 388.6 3027.5 389.8 3022.6 391.0 3017.7 392.1 3012.8 393.3 3007.9 394.5 3003.0 395.6 2998.1 396.8 2993.2 397.9 2988.3 399.1 2983.4 400.2 2978.4 401.3 2973.5 402.4 2968.5 403.5 2963.5 404.6 2958.5 405.7 2953.5 406.8 2948.5 408.0 2943.5 409.1 2938.5 410.2 2933.5 411.4 2928.5 412.5 2923.5 413.7 2918.5 414.9 2913.5 416.2 2908.5 417.4 2903.6 418.7 2898.6 420.0 2893.6 421.4 2888.7 422.7 2883.7 424.2 2878.8 425.6 2873.9 427.2 2869.0 428.7 2864.1 430.3 2859.3 432.0 2854.4 433.7 2849.6 435.5 2844.8 437.3 2840.0 439.2 2835.3 441.2 2830.6 443.2 2825.9 445.3 2821.2 447.5 2816.6 449.8 2812.0 452.1 2807.5 454.5 2803.0 457.0 2798.7 459.7 2794.5 462.4 2790.5 465.2 2786.6 468.2 2783.0 471.2 2779.6 474.4 2776.4 477.8 2773.6 481.2 2771.0 484.8 2768.8 488.6 2767.0 492.5 2765.5 496.6 2764.5 500.8 2763.9 505.2 2763.8 509.7 2764.0 514.3 2764.6 519.0 2765.6 523.7 2766.9 528.3 2768.4 533.0 2770.3 537.6 2772.4 542.1 2774.7 546.6 2777.2 551.0 2779.9 555.4 2782.7 559.6 2785.6 563.8 2788.6 567.9 2791.7 572.0 2794.8 575.9 2798.1 579.8 2801.4 583.6 2804.7 587.4 2808.1 591.1 2811.6 594.7 2815.1 598.3 2818.7 601.8 2822.4 605.3 2826.1 608.7 2829.8 612.0 2833.6 615.4 2837.4 618.6 2841.3 621.9 2845.2 625.1 2849.1 628.2 2853.1 631.3 2857.1 634.4 2861.1 637.5 2865.2 640.5 2869.2 643.5 2873.3 646.5 2877.5 649.4 2881.6 652.4 2885.7 655.3 2889.9 658.2 2894.0 661.1 2898.2 664.0 2902.3 666.9 2906.5 669.8 2910.7 672.6 2914.8 675.5 2919.0 678.3 2923.2 681.2 2927.3 684.0 2931.5 686.9 2935.6 689.7 2939.8 692.5 2944.0 695.4 2948.1 698.2 2952.3 701.0 2956.5 703.8 2960.6 706.6 2964.8 709.4 2968.9 712.2 2973.1 715.0 2977.3 717.8 2981.4 720.6 2985.6 723.4 2989.7 726.1 2993.9 728.9 2998.1 731.7 3002.2 734.5 3006.4 737.2 3010.5 740.0 3014.7 742.8 3018.8 745.5 3023.0 748.3 3027.1 751.0 3031.3 753.8 3035.5 756.6 3039.6 759.3 3043.8 762.1 3047.9 764.8 3052.1 767.6 3056.2 770.3 3060.4 773.1 3064.5 775.9 3068.7 778.6 3072.8 781.4 3076.9 784.1 3081.1 786.9 3085.2 789.6 3089.4 792.4 3093.5 795.2 3097.7 797.9 3101.8 800.7 3105.9 803.5 3110.1 806.2 3114.2 809.0 3118.3 811.8 3122.5 814.6 3126.6 817.4 3130.7 820.1 3134.9 822.9 3139.0 825.7 3143.1 828.5 3147.2 831.3 3151.4 834.1 3155.5 836.9 3159.6 839.8 3163.7 842.6 3167.8 845.4 3172.0 848.2 3176.1 851.1 3180.2 853.9 3184.3 856.8 3188.4 859.6 3192.5 862.5 3196.6 865.3 3200.7 868.2 3204.9 871.0 3209.0 873.9 3213.1 876.8 3217.2 879.7 3221.3 882.6 3225.3 885.5 3229.4 888.4 3233.5 891.3 3237.6 894.2 3241.7 897.1 3245.8 900.0 3249.9 902.9 3254.0 905.9 3258.1 908.8 3262.1 911.7 3266.2 914.7 3270.3 917.6 3274.4 920.6 3278.4 923.5 3282.5 926.5 3286.6 929.5 3290.6 932.5 3294.7 935.4 3298.8 938.4 3302.8 941.4 3306.9 944.4 3310.9 947.4 3315.0 950.4 3319.0 953.4 3323.1 956.5 3327.1 959.5 3331.2 962.5 3335.2 965.5 3339.2 968.6 3343.3 971.6 3347.3 974.7 3351.3 977.7 3355.4 980.8 3359.4 983.9 3363.4 986.9 3367.4 990.0 3371.4 993.1 3375.5 996.2 3379.5 999.3 3383.5 1002.4 3387.5 1005.5 3391.5 1008.6 3395.5 1011.7 3399.5 1014.8 3403.5 1018.0 3407.5 1021.1 3411.5 1024.3 3415.4 1027.4 3419.4 1030.6 3423.4 1033.8 3427.3 1037.0 3431.2 1040.2 3435.0 1043.5 3438.9 1046.8 3442.6 1050.1 3446.4 1053.5 3450.1 1056.9 3453.7 1060.3 3457.3 1063.8 3460.8 1067.3 3464.2 1070.9 3467.5 1074.5 3470.8 1078.2 3474.0 1082.0 3477.1 1085.8 3480.1 1089.7 3483.0 1093.6 3485.8 1097.6 3488.5 1101.7 3491.1 1105.9 3493.5 1110.1 3495.9 1114.5 3498.1 1118.9 3500.1 1123.4 3502.1 1127.9 3503.9 1132.6 3505.6 1137.3 3507.2 1142.1 3508.7 1146.9 3510.1 1151.7 3511.4 1156.7 3512.6 1161.6 3513.8 1166.6 3514.8 1171.7 3515.8 1176.7 3516.7 1181.8 3517.5 1186.9 3518.3 1192.0 3519.0 1197.2 3519.7 1202.3 3520.3 1207.4 3520.9 1212.6 3521.4 1217.7 3522.0 1222.8 3522.5 1227.9 3523.0 1233.0 3523.4 1238.1 3523.9 1243.2 3524.4 1248.2 3524.9 1253.2 3525.4 1258.2 3526.0 1263.2 3526.6 1268.2 3527.2 1273.1 3527.9 1278.0 3528.6 1282.9 3529.4 1287.8 3530.2 1292.6 3531.2 1297.4 3532.2 1302.1 3533.3 1306.8 3534.5 1311.5 3535.8 1316.1 3537.2 1320.7 3538.8 1325.3 3540.5 1329.8 3542.3 1334.3 3544.2 1338.7 3546.3 1343.0 3548.5 1347.4 3550.9 1351.6 3553.5 1355.8 3556.2 1360.0 3559.1 1364.1 3562.3 1368.1 3565.6 1372.1 3569.1 1376.0 3572.8" stroke="#000000" stroke-width="11.3"/>
<path class="c" d="M257.0 3570.8L259.2 3566.3 261.4 3561.7 263.5 3557.1 265.5 3552.5 267.6 3547.9 269.5 3543.3 271.5 3538.7 273.4 3534.0 275.2 3529.4 277.0 3524.7 278.8 3520.0 280.5 3515.4 282.2 3510.7 283.9 3505.9 285.5 3501.2 287.1 3496.5 288.7 3491.7 290.2 3487.0 291.7 3482.2 293.1 3477.4 294.6 3472.7 296.0 3467.9 297.3 3463.1 298.7 3458.2 300.0 3453.4 301.3 3448.6 302.5 3443.8 303.7 3438.9 304.9 3434.1 306.1 3429.2 307.3 3424.3 308.4 3419.5 309.5 3414.6 310.6 3409.7 311.7 3404.8 312.8 3399.9 313.8 3395.0 314.8 3390.1 315.8 3385.2 316.8 3380.2 317.8 3375.3 318.7 3370.4 319.7 3365.5 320.6 3360.5 321.5 3355.6 322.4 3350.6 323.3 3345.7 324.2 3340.7 325.1 3335.8 326.0 3330.8 326.8 3325.9 327.7 3320.9 328.5 3315.9 329.4 3311.0 330.2 3306.0 331.0 3301.0 331.9 3296.1 332.7 3291.1 333.6 3286.1 334.4 3281.2 335.2 3276.2 336.1 3271.2 336.9 3266.3 337.7 3261.3 338.6 3256.3 339.4 3251.4 340.3 3246.4 341.1 3241.5 342.0 3236.5 342.9 3231.5 343.8 3226.6 344.7 3221.6 345.6 3216.7 346.5 3211.8 347.4 3206.8 348.4 3201.9 349.3 3197.0 350.3 3192.0 351.3 3187.1 352.3 3182.2 353.3 3177.3 354.3 3172.4 355.3 3167.5 356.4 3162.6 357.5 3157.7 358.5 3152.8 359.6 3147.9 360.7 3143.0 361.8 3138.1 362.9 3133.2 364.0 3128.4 365.2 3123.5 366.3 3118.6 367.5 3113.7 368.6 3108.9 369.8 3104.0 370.9 3099.1 372.1 3094.3 373.3 3089.4 374.4 3084.6 375.6 3079.7 376.8 3074.8 378.0 3070.0 379.1 3065.1 380.3 3060.3 381.5 3055.4 382.7 3050.6 383.9 3045.7 385.1 3040.8 386.2 3036.0 387.4 3031.1 388.6 3026.3 389.7 3021.4 390.9 3016.5 392.1 3011.7 393.2 3006.8 394.4 3001.9 395.5 2997.1 396.7 2992.2 397.8 2987.3 398.9 2982.5 400.0 2977.6 401.1 2972.7 402.2 2967.8 403.3 2962.9 404.4 2958.0 405.5 2953.2 406.6 2948.3 407.6 2943.4 408.7 2938.5 409.9 2933.6 411.0 2928.7 412.1 2923.8 413.3 2918.9 414.5 2914.0 415.7 2909.2 416.9 2904.3 418.2 2899.4 419.5 2894.5 420.8 2889.6 422.2 2884.8 423.6 2879.9 425.0 2875.0 426.5 2870.2 428.1 2865.3 429.7 2860.4 431.3 2855.6 433.0 2850.8 434.8 2845.9 436.6 2841.1 438.5 2836.3 440.5 2831.5 442.5 2826.7 444.6 2821.9 446.8 2817.1 449.1 2812.3 451.4 2807.5 453.9 2802.9 456.4 2798.3 459.0 2793.9 461.8 2789.6 464.7 2785.6 467.7 2781.7 470.9 2778.1 474.2 2774.8 477.6 2771.8 481.2 2769.1 485.0 2766.8 488.9 2765.0 492.9 2763.5 497.0 2762.5 501.2 2762.0 505.5 2762.0 509.8 2762.4 514.2 2763.2 518.6 2764.4 523.1 2765.9 527.5 2767.7 532.0 2769.9 536.5 2772.2 541.0 2774.8 545.4 2777.6 549.8 2780.5 554.2 2783.5 558.5 2786.6 562.8 2789.8 566.9 2793.0 571.0 2796.2 575.1 2799.5 579.1 2802.9 583.0 2806.2 586.9 2809.6 590.7 2813.1 594.4 2816.6 598.1 2820.1 601.7 2823.7 605.3 2827.2 608.8 2830.9 612.3 2834.5 615.7 2838.2 619.1 2841.9 622.5 2845.6 625.8 2849.4 629.0 2853.2 632.2 2857.0 635.4 2860.8 638.6 2864.7 641.7 2868.6 644.7 2872.5 647.8 2876.4 650.8 2880.3 653.8 2884.3 656.7 2888.2 659.7 2892.2 662.6 2896.2 665.5 2900.2 668.3 2904.2 671.2 2908.3 674.0 2912.3 676.8 2916.4 679.6 2920.4 682.4 2924.5 685.1 2928.6 687.9 2932.7 690.6 2936.8 693.3 2940.9 696.1 2945.0 698.8 2949.1 701.5 2953.2 704.1 2957.4 706.8 2961.5 709.5 2965.7 712.2 2969.9 714.8 2974.0 717.5 2978.2 720.2 2982.4 722.8 2986.6 725.5 2990.8 728.2 2995.0 730.8 2999.2 733.5 3003.4 736.2 3007.6 738.9 3011.8 741.6 3016.1 744.3 3020.3 747.0 3024.5 749.7 3028.8 752.4 3033.0 755.2 3037.2 757.9 3041.5 760.7 3045.7 763.5 3050.0 766.2 3054.2 769.1 3058.5 771.9 3062.7 774.7 3067.0 777.6 3071.3 780.5 3075.5 783.4 3079.8 786.3 3084.0 789.2 3088.3 792.1 3092.5 795.0 3096.8 797.9 3101.1 800.9 3105.3 803.8 3109.6 806.8 3113.8 809.7 3118.1 812.6 3122.3 815.6 3126.6 818.5 3130.8 821.5 3135.0 824.4 3139.3 827.3 3143.5 830.3 3147.7 833.2 3152.0 836.1 3156.2 839.0 3160.4 841.9 3164.6 844.8 3168.8 847.6 3173.0 850.5 3177.2 853.3 3181.4 856.2 3185.6 859.0 3189.7 861.8 3193.9 864.6 3198.1 867.5 3202.2 870.3 3206.4 873.1 3210.5 875.9 3214.6 878.7 3218.8 881.5 3222.9 884.3 3227.0 887.1 3231.1 889.9 3235.2 892.7 3239.2 895.5 3243.3 898.3 3247.4 901.1 3251.4 904.0 3255.4 906.8 3259.5 909.7 3263.5 912.5 3267.5 915.4 3271.5 918.2 3275.4 921.1 3279.4 924.0 3283.4 926.9 3287.3 929.8 3291.2 932.8 3295.1 935.7 3299.0 938.7 3302.9 941.7 3306.8 944.7 3310.7 947.7 3314.5 950.7 3318.3 953.8 3322.1 956.9 3325.9 960.0 3329.7 963.1 3333.5 966.3 3337.2 969.4 3341.0 972.6 3344.7 975.9 3348.4 979.1 3352.1 982.4 3355.7 985.7 3359.4 989.0 3363.0 992.4 3366.6 995.8 3370.2 999.3 3373.8 1002.7 3377.3 1006.2 3380.9 1009.8 3384.4 1013.3 3387.9 1017.0 3391.4 1020.6 3394.8 1024.3 3398.2 1028.0 3401.7 1031.8 3405.0 1035.5 3408.4 1039.4 3411.7 1043.2 3415.0 1047.1 3418.3 1051.0 3421.6 1054.9 3424.8 1058.9 3428.0 1062.9 3431.1 1066.9 3434.3 1071.0 3437.4 1075.1 3440.4 1079.2 3443.4 1083.3 3446.4 1087.5 3449.4 1091.7 3452.3 1095.9 3455.2 1100.1 3458.0 1104.4 3460.8 1108.7 3463.5 1113.0 3466.3 1117.3 3468.9 1121.6 3471.5 1126.0 3474.1 1130.4 3476.7 1134.8 3479.1 1139.2 3481.6 1143.7 3484.0 1148.1 3486.3 1152.6 3488.6 1157.1 3490.8 1161.6 3493.0 1166.1 3495.1 1170.7 3497.2 1175.2 3499.2 1179.8 3501.2 1184.3 3503.1 1188.9 3504.9 1193.5 3506.7 1198.1 3508.4 1202.8 3510.1 1207.4 3511.7 1212.0 3513.2 1216.7 3514.7 1221.3 3516.1 1226.0 3517.5 1230.7 3518.8 1235.3 3520.1 1240.0 3521.3 1244.7 3522.6 1249.4 3523.7 1254.1 3524.9 1258.8 3526.1 1263.5 3527.3 1268.2 3528.4 1272.9 3529.6 1277.6 3530.8 1282.3 3532.0 1287.0 3533.2 1291.7 3534.5 1296.4 3535.8 1301.1 3537.2 1305.8 3538.6 1310.5 3540.0 1315.2 3541.6 1319.8 3543.2 1324.5 3544.8 1329.2 3546.6 1333.9 3548.4 1338.5 3550.3 1343.2 3552.3 1347.8 3554.5 1352.4 3556.7 1357.1 3559.1 1361.7 3561.5 1366.3 3564.2 1370.9 3566.9 1375.4 3569.8 1380.0 3572.8" stroke="#04044a" stroke-width="10.6"/>
<path class="c" d="M257.0 3570.8L259.6 3566.4 262.1 3562.0 264.5 3557.5 266.9 3553.0 269.3 3548.6 271.5 3544.1 273.7 3539.5 275.9 3535.0 277.9 3530.5 280.0 3525.9 281.9 3521.3 283.9 3516.7 285.7 3512.1 287.6 3507.5 289.3 3502.9 291.0 3498.2 292.7 3493.5 294.4 3488.9 295.9 3484.2 297.5 3479.5 299.0 3474.8 300.4 3470.0 301.8 3465.3 303.2 3460.6 304.6 3455.8 305.9 3451.0 307.1 3446.2 308.4 3441.4 309.6 3436.6 310.8 3431.8 311.9 3427.0 313.0 3422.2 314.1 3417.3 315.1 3412.5 316.2 3407.6 317.2 3402.8 318.2 3397.9 319.1 3393.0 320.1 3388.1 321.0 3383.2 321.9 3378.3 322.8 3373.4 323.7 3368.5 324.5 3363.5 325.4 3358.6 326.2 3353.7 327.1 3348.7 327.9 3343.8 328.7 3338.8 329.5 3333.9 330.3 3328.9 331.0 3323.9 331.8 3319.0 332.6 3314.0 333.3 3309.0 334.1 3304.0 334.8 3299.1 335.6 3294.1 336.3 3289.1 337.1 3284.1 337.8 3279.1 338.6 3274.1 339.3 3269.1 340.0 3264.1 340.8 3259.1 341.5 3254.1 342.2 3249.1 343.0 3244.1 343.7 3239.1 344.5 3234.1 345.2 3229.1 346.0 3224.1 346.8 3219.1 347.5 3214.1 348.3 3209.1 349.1 3204.2 349.9 3199.2 350.7 3194.2 351.5 3189.2 352.3 3184.2 353.1 3179.2 354.0 3174.3 354.8 3169.3 355.7 3164.3 356.6 3159.4 357.5 3154.4 358.4 3149.5 359.3 3144.5 360.2 3139.6 361.2 3134.7 362.2 3129.7 363.1 3124.8 364.1 3119.9 365.1 3115.0 366.1 3110.1 367.2 3105.2 368.2 3100.3 369.3 3095.4 370.3 3090.5 371.4 3085.6 372.5 3080.7 373.5 3075.8 374.6 3071.0 375.7 3066.1 376.8 3061.2 377.9 3056.3 379.0 3051.5 380.2 3046.6 381.3 3041.8 382.4 3036.9 383.5 3032.1 384.7 3027.2 385.8 3022.4 386.9 3017.5 388.1 3012.7 389.2 3007.8 390.3 3003.0 391.5 2998.2 392.6 2993.3 393.7 2988.5 394.9 2983.7 396.0 2978.8 397.1 2974.0 398.2 2969.2 399.3 2964.4 400.4 2959.5 401.6 2954.7 402.6 2949.9 403.7 2945.1 404.8 2940.2 405.9 2935.4 407.0 2930.6 408.0 2925.8 409.1 2920.9 410.1 2916.1 411.2 2911.3 412.2 2906.5 413.3 2901.6 414.4 2896.8 415.6 2891.9 416.7 2887.1 417.9 2882.2 419.2 2877.3 420.4 2872.4 421.8 2867.5 423.2 2862.6 424.6 2857.7 426.2 2852.8 427.8 2847.8 429.5 2842.8 431.2 2837.8 433.1 2832.8 435.1 2827.8 437.1 2822.9 439.3 2817.9 441.6 2813.1 444.0 2808.3 446.5 2803.6 449.1 2799.0 451.9 2794.6 454.8 2790.3 457.9 2786.1 461.1 2782.2 464.4 2778.6 467.9 2775.1 471.4 2772.0 475.1 2769.2 478.9 2766.8 482.8 2764.7 486.8 2763.1 490.9 2761.9 495.0 2761.1 499.3 2760.7 503.5 2760.6 507.9 2760.9 512.2 2761.5 516.6 2762.4 521.0 2763.7 525.4 2765.2 529.8 2766.9 534.2 2768.9 538.6 2771.1 542.9 2773.5 547.3 2776.1 551.6 2778.9 555.9 2781.9 560.1 2785.0 564.3 2788.2 568.5 2791.5 572.6 2794.9 576.6 2798.4 580.6 2802.0 584.6 2805.6 588.4 2809.2 592.3 2812.9 596.0 2816.6 599.7 2820.3 603.3 2824.0 606.8 2827.8 610.3 2831.6 613.8 2835.4 617.2 2839.2 620.5 2843.0 623.8 2846.9 627.0 2850.8 630.2 2854.7 633.4 2858.6 636.5 2862.6 639.5 2866.5 642.5 2870.5 645.5 2874.5 648.4 2878.5 651.3 2882.5 654.2 2886.6 657.0 2890.6 659.8 2894.7 662.6 2898.8 665.3 2902.9 668.1 2907.0 670.7 2911.1 673.4 2915.2 676.1 2919.4 678.7 2923.5 681.3 2927.7 683.9 2931.9 686.5 2936.0 689.0 2940.2 691.6 2944.4 694.1 2948.6 696.7 2952.8 699.2 2957.1 701.7 2961.3 704.3 2965.5 706.8 2969.7 709.3 2974.0 711.8 2978.2 714.4 2982.5 716.9 2986.7 719.4 2990.9 722.0 2995.2 724.6 2999.4 727.1 3003.7 729.7 3007.9 732.3 3012.2 734.9 3016.4 737.6 3020.7 740.2 3024.9 742.9 3029.2 745.5 3033.4 748.2 3037.7 750.9 3041.9 753.6 3046.1 756.3 3050.4 759.0 3054.6 761.7 3058.9 764.5 3063.1 767.2 3067.3 770.0 3071.6 772.7 3075.8 775.5 3080.0 778.3 3084.3 781.1 3088.5 783.9 3092.7 786.7 3096.9 789.5 3101.1 792.3 3105.4 795.1 3109.6 797.9 3113.8 800.8 3118.0 803.6 3122.2 806.5 3126.4 809.3 3130.6 812.2 3134.8 815.0 3139.0 817.9 3143.2 820.7 3147.4 823.6 3151.6 826.5 3155.7 829.4 3159.9 832.2 3164.1 835.1 3168.2 838.0 3172.4 840.9 3176.6 843.7 3180.7 846.6 3184.9 849.5 3189.0 852.4 3193.2 855.3 3197.3 858.2 3201.4 861.0 3205.6 863.9 3209.7 866.8 3213.8 869.7 3217.9 872.5 3222.0 875.4 3226.1 878.3 3230.2 881.2 3234.3 884.0 3238.4 886.9 3242.5 889.7 3246.6 892.6 3250.7 895.4 3254.7 898.3 3258.8 901.1 3262.8 904.0 3266.9 906.8 3270.9 909.6 3274.9 912.4 3279.0 915.2 3283.0 918.0 3287.0 920.8 3291.0 923.6 3295.0 926.4 3299.0 929.2 3303.0 931.9 3307.0 934.7 3310.9 937.5 3314.9 940.3 3318.8 943.0 3322.8 945.8 3326.7 948.7 3330.6 951.5 3334.5 954.3 3338.4 957.2 3342.2 960.1 3346.1 963.0 3349.9 965.9 3353.7 968.9 3357.5 971.9 3361.2 974.9 3365.0 978.0 3368.7 981.1 3372.4 984.3 3376.0 987.5 3379.7 990.7 3383.3 994.0 3386.8 997.4 3390.4 1000.8 3393.9 1004.3 3397.4 1007.8 3400.9 1011.4 3404.3 1015.0 3407.7 1018.7 3411.0 1022.4 3414.4 1026.2 3417.7 1030.0 3420.9 1033.9 3424.1 1037.8 3427.3 1041.8 3430.4 1045.8 3433.5 1049.8 3436.6 1053.9 3439.6 1058.0 3442.5 1062.2 3445.4 1066.3 3448.3 1070.6 3451.1 1074.8 3453.9 1079.1 3456.7 1083.4 3459.3 1087.7 3462.0 1092.1 3464.5 1096.5 3467.1 1100.9 3469.5 1105.3 3472.0 1109.8 3474.3 1114.3 3476.6 1118.8 3478.9 1123.3 3481.1 1127.8 3483.2 1132.4 3485.3 1137.0 3487.3 1141.6 3489.3 1146.2 3491.2 1150.9 3493.0 1155.5 3494.8 1160.2 3496.5 1164.9 3498.1 1169.6 3499.7 1174.4 3501.2 1179.1 3502.7 1183.9 3504.0 1188.7 3505.3 1193.5 3506.6 1198.3 3507.7 1203.2 3508.8 1208.0 3509.8 1212.9 3510.8 1217.8 3511.6 1222.7 3512.4 1227.6 3513.2 1232.5 3513.8 1237.4 3514.4 1242.4 3514.8 1247.4 3515.2 1252.3 3515.6 1257.3 3515.9 1262.3 3516.1 1267.3 3516.4 1272.2 3516.7 1277.2 3517.0 1282.2 3517.4 1287.1 3517.8 1292.0 3518.3 1296.9 3519.0 1301.7 3519.8 1306.6 3520.7 1311.3 3521.8 1316.1 3523.1 1320.8 3524.6 1325.4 3526.2 1330.0 3528.0 1334.6 3529.9 1339.0 3532.1 1343.5 3534.3 1347.8 3536.7 1352.1 3539.3 1356.3 3542.0 1360.4 3544.9 1364.4 3547.9 1368.4 3551.0 1372.2 3554.3 1376.0 3557.8 1379.7 3561.3 1383.2 3565.0 1386.7 3568.9 1390.0 3572.8" stroke="#0000ee" stroke-width="12.0"/>
<path class="c" d="M257.0 3570.8L258.6 3566.1 260.1 3561.4 261.6 3556.7 263.2 3552.0 264.7 3547.3 266.2 3542.6 267.6 3537.9 269.1 3533.1 270.6 3528.4 272.0 3523.6 273.5 3518.8 274.9 3514.1 276.3 3509.3 277.7 3504.5 279.1 3499.7 280.4 3494.9 281.8 3490.0 283.2 3485.2 284.5 3480.4 285.8 3475.5 287.2 3470.7 288.5 3465.8 289.8 3461.0 291.1 3456.1 292.3 3451.3 293.6 3446.4 294.9 3441.5 296.1 3436.6 297.4 3431.7 298.6 3426.8 299.9 3421.9 301.1 3417.0 302.3 3412.1 303.5 3407.2 304.7 3402.3 305.9 3397.4 307.1 3392.5 308.3 3387.5 309.4 3382.6 310.6 3377.7 311.8 3372.8 312.9 3367.8 314.1 3362.9 315.2 3358.0 316.3 3353.0 317.5 3348.1 318.6 3343.1 319.7 3338.2 320.8 3333.3 321.9 3328.3 323.0 3323.4 324.1 3318.4 325.2 3313.5 326.3 3308.6 327.4 3303.6 328.5 3298.7 329.6 3293.7 330.7 3288.8 331.7 3283.9 332.8 3278.9 333.9 3274.0 335.0 3269.1 336.0 3264.2 337.1 3259.2 338.1 3254.3 339.2 3249.4 340.3 3244.5 341.3 3239.6 342.4 3234.7 343.4 3229.8 344.5 3224.9 345.5 3220.0 346.6 3215.1 347.7 3210.2 348.7 3205.3 349.8 3200.4 350.8 3195.6 351.9 3190.7 352.9 3185.8 354.0 3181.0 355.1 3176.1 356.1 3171.3 357.2 3166.5 358.2 3161.6 359.3 3156.8 360.4 3152.0 361.5 3147.2 362.5 3142.3 363.6 3137.5 364.7 3132.7 365.8 3127.9 366.9 3123.1 368.0 3118.3 369.1 3113.5 370.2 3108.7 371.3 3103.9 372.5 3099.1 373.6 3094.3 374.7 3089.6 375.9 3084.8 377.0 3080.0 378.2 3075.2 379.3 3070.4 380.5 3065.6 381.7 3060.8 382.9 3056.1 384.1 3051.3 385.3 3046.5 386.5 3041.7 387.8 3036.9 389.0 3032.1 390.3 3027.3 391.5 3022.5 392.8 3017.7 394.1 3012.9 395.4 3008.1 396.7 3003.3 398.0 2998.5 399.4 2993.7 400.7 2988.9 402.1 2984.1 403.4 2979.3 404.8 2974.5 406.2 2969.6 407.6 2964.8 409.1 2960.0 410.5 2955.1 412.0 2950.3 413.5 2945.5 415.0 2940.6 416.5 2935.7 418.0 2930.9 419.6 2926.0 421.1 2921.1 422.7 2916.2 424.3 2911.3 425.9 2906.5 427.5 2901.5 429.2 2896.6 430.9 2891.7 432.6 2886.8 434.3 2881.9 436.0 2876.9 437.8 2872.0 439.5 2867.0 441.3 2862.0 443.1 2857.0 445.0 2852.1 446.8 2847.1 448.7 2842.1 450.7 2837.1 452.7 2832.2 454.7 2827.4 456.8 2822.6 459.0 2817.8 461.3 2813.2 463.6 2808.7 466.1 2804.3 468.7 2800.0 471.4 2795.9 474.2 2792.0 477.1 2788.2 480.2 2784.6 483.4 2781.2 486.8 2778.0 490.4 2775.1 494.1 2772.4 498.0 2769.9 502.0 2767.7 506.2 2765.8 510.5 2764.2 514.9 2763.0 519.3 2762.0 523.8 2761.4 528.4 2761.1 532.9 2761.2 537.4 2761.6 541.9 2762.4 546.4 2763.4 550.8 2764.8 555.1 2766.5 559.4 2768.5 563.6 2770.7 567.7 2773.2 571.8 2775.8 575.8 2778.7 579.8 2781.7 583.7 2784.9 587.5 2788.2 591.3 2791.6 595.1 2795.0 598.8 2798.6 602.5 2802.3 606.1 2805.9 609.7 2809.7 613.2 2813.4 616.7 2817.2 620.2 2821.0 623.6 2824.8 627.0 2828.6 630.4 2832.4 633.7 2836.3 637.0 2840.1 640.3 2844.0 643.5 2847.9 646.8 2851.8 650.0 2855.7 653.1 2859.6 656.3 2863.5 659.4 2867.5 662.5 2871.5 665.6 2875.4 668.7 2879.4 671.8 2883.4 674.9 2887.4 677.9 2891.4 680.9 2895.4 683.9 2899.5 686.9 2903.5 689.9 2907.6 692.9 2911.6 695.8 2915.7 698.8 2919.8 701.7 2923.9 704.6 2928.0 707.5 2932.1 710.4 2936.2 713.3 2940.3 716.1 2944.4 719.0 2948.5 721.8 2952.7 724.7 2956.8 727.5 2960.9 730.3 2965.1 733.1 2969.3 735.9 2973.4 738.7 2977.6 741.5 2981.8 744.3 2985.9 747.0 2990.1 749.8 2994.3 752.5 2998.5 755.3 3002.7 758.0 3006.9 760.8 3011.1 763.5 3015.3 766.2 3019.5 768.9 3023.7 771.7 3027.9 774.4 3032.1 777.1 3036.3 779.8 3040.5 782.5 3044.8 785.2 3049.0 787.9 3053.2 790.6 3057.4 793.3 3061.6 796.0 3065.8 798.7 3070.1 801.4 3074.3 804.1 3078.5 806.8 3082.7 809.5 3086.9 812.2 3091.1 814.9 3095.3 817.6 3099.6 820.3 3103.8 823.0 3108.0 825.7 3112.2 828.4 3116.4 831.1 3120.6 833.8 3124.8 836.5 3128.9 839.2 3133.1 842.0 3137.3 844.7 3141.5 847.5 3145.7 850.2 3149.8 853.0 3154.0 855.7 3158.1 858.5 3162.3 861.3 3166.4 864.0 3170.6 866.8 3174.7 869.6 3178.8 872.4 3182.9 875.2 3187.1 878.1 3191.2 880.9 3195.3 883.7 3199.3 886.6 3203.4 889.5 3207.5 892.3 3211.6 895.2 3215.6 898.1 3219.7 901.0 3223.7 904.0 3227.7 906.9 3231.8 909.8 3235.8 912.8 3239.8 915.8 3243.8 918.8 3247.7 921.8 3251.7 924.8 3255.7 927.8 3259.6 930.9 3263.5 933.9 3267.5 937.0 3271.4 940.1 3275.3 943.2 3279.1 946.4 3283.0 949.5 3286.9 952.7 3290.7 955.9 3294.6 959.1 3298.4 962.3 3302.2 965.6 3306.0 968.8 3309.7 972.1 3313.5 975.4 3317.3 978.7 3321.0 982.1 3324.7 985.4 3328.4 988.8 3332.1 992.2 3335.8 995.7 3339.4 999.1 3343.0 1002.6 3346.7 1006.1 3350.3 1009.6 3353.8 1013.1 3357.4 1016.7 3361.0 1020.3 3364.5 1023.9 3368.0 1027.5 3371.5 1031.1 3375.0 1034.8 3378.5 1038.4 3381.9 1042.1 3385.4 1045.8 3388.8 1049.6 3392.2 1053.3 3395.5 1057.1 3398.9 1060.9 3402.2 1064.7 3405.6 1068.5 3408.9 1072.3 3412.1 1076.2 3415.4 1080.0 3418.6 1083.9 3421.9 1087.8 3425.1 1091.8 3428.3 1095.7 3431.4 1099.6 3434.6 1103.6 3437.7 1107.6 3440.8 1111.6 3443.9 1115.6 3447.0 1119.6 3450.0 1123.7 3453.0 1127.8 3456.0 1131.8 3459.0 1135.9 3462.0 1140.0 3464.9 1144.2 3467.8 1148.3 3470.7 1152.4 3473.6 1156.6 3476.4 1160.8 3479.3 1165.0 3482.1 1169.2 3484.9 1173.4 3487.6 1177.6 3490.4 1181.9 3493.1 1186.1 3495.8 1190.4 3498.4 1194.7 3501.1 1198.9 3503.7 1203.3 3506.3 1207.6 3508.9 1211.9 3511.4 1216.2 3514.0 1220.6 3516.5 1224.9 3519.0 1229.3 3521.4 1233.7 3523.9 1238.1 3526.3 1242.5 3528.7 1246.9 3531.0 1251.3 3533.3 1255.7 3535.7 1260.2 3537.9 1264.6 3540.2 1269.1 3542.4 1273.6 3544.6 1278.0 3546.8 1282.5 3549.0 1287.0 3551.1 1291.5 3553.2 1296.0 3555.3 1300.6 3557.3 1305.1 3559.4 1309.6 3561.4 1314.2 3563.3 1318.7 3565.3 1323.3 3567.2 1327.8 3569.1 1332.4 3571.0 1337.0 3572.8" stroke="#00ffff" stroke-width="12.3"/>
</g>
</g>
<g id="arrows">
<path d="M557.2 588.6L557.2 367.8" fill="none" stroke="#000" stroke-width="10" stroke-linecap="round"/><path d="M530.8 466.5L557.2 367.8L583.6 466.5" fill="none" stroke="#000" stroke-width="10.6" stroke-linecap="round" stroke-linejoin="round"/>
<path d="M526.0 1482.1L526.0 1261.1" fill="none" stroke="#000" stroke-width="10" stroke-linecap="round"/><path d="M499.6 1359.8L526.0 1261.1L552.4 1359.8" fill="none" stroke="#000" stroke-width="10.6" stroke-linecap="round" stroke-linejoin="round"/>
<path d="M534.3 2284.5L534.3 2061.1" fill="none" stroke="#000" stroke-width="10" stroke-linecap="round"/><path d="M507.9 2159.8L534.3 2061.1L560.7 2159.8" fill="none" stroke="#000" stroke-width="10.6" stroke-linecap="round" stroke-linejoin="round"/>
<path d="M516.2 3057.9L516.2 2836.9" fill="none" stroke="#000" stroke-width="10" stroke-linecap="round"/><path d="M489.8 2935.6L516.2 2836.9L542.6 2935.6" fill="none" stroke="#000" stroke-width="10.6" stroke-linecap="round" stroke-linejoin="round"/>
<path d="M1357.0 571.7L1357.0 801.8" fill="none" stroke="#000" stroke-width="10" stroke-linecap="round"/><path d="M1330.6 703.1L1357.0 801.8L1383.4 703.1" fill="none" stroke="#000" stroke-width="10.6" stroke-linecap="round" stroke-linejoin="round"/>
<path d="M1309.1 1453.5L1309.1 1684.0" fill="none" stroke="#000" stroke-width="10" stroke-linecap="round"/><path d="M1282.7 1585.3L1309.1 1684.0L1335.5 1585.3" fill="none" stroke="#000" stroke-width="10.6" stroke-linecap="round" stroke-linejoin="round"/>
<path d="M1322.9 2395.8L1322.9 2626.3" fill="none" stroke="#000" stroke-width="10" stroke-linecap="round"/><path d="M1296.5 2527.6L1322.9 2626.3L1349.3 2527.6" fill="none" stroke="#000" stroke-width="10.6" stroke-linecap="round" stroke-linejoin="round"/>
<path d="M1374.4 3260.8L1374.4 3490.5" fill="none" stroke="#000" stroke-width="10" stroke-linecap="round"/><path d="M1348.0 3391.8L1374.4 3490.5L1400.8 3391.8" fill="none" stroke="#000" stroke-width="10.6" stroke-linecap="round" stroke-linejoin="round"/>
</g>
<g id="labels">
<text class="t" transform="translate(224.5 207.6) scale(1.000 1.041)" text-anchor="end">0.8</text>
<text class="t" transform="translate(224.5 564.7) scale(1.000 1.041)" text-anchor="end">0.4</text>
<text class="t" transform="translate(224.5 921.8) scale(1.000 1.041)" text-anchor="end">0.0</text>
<text class="t" transform="translate(224.5 1099.5) scale(1.000 1.041)" text-anchor="end">0.8</text>
<text class="t" transform="translate(224.5 1456.4) scale(1.000 1.041)" text-anchor="end">0.4</text>
<text class="t" transform="translate(224.5 1812.2) scale(1.000 1.041)" text-anchor="end">0.0</text>
<text class="t" transform="translate(224.5 2056.5) scale(1.000 1.041)" text-anchor="end">0.8</text>
<text class="t" transform="translate(224.5 2378.9) scale(1.000 1.041)" text-anchor="end">0.4</text>
<text class="t" transform="translate(224.5 2703.8) scale(1.000 1.041)" text-anchor="end">0.0</text>
<text class="t" transform="translate(224.5 2946.6) scale(1.000 1.041)" text-anchor="end">0.8</text>
<text class="t" transform="translate(224.5 3271.2) scale(1.000 1.041)" text-anchor="end">0.4</text>
<text class="t" transform="translate(224.5 3596.0) scale(1.000 1.041)" text-anchor="end">0.0</text>
<text class="t" transform="translate(257.5 3666.5) scale(1.000 1.041)" text-anchor="middle">0</text>
<text class="t" transform="translate(526.5 3666.5) scale(1.000 1.041)" text-anchor="middle">5</text>
<text class="t" transform="translate(795.8 3666.5) scale(1.000 1.041)" text-anchor="middle">10</text>
<text class="t" transform="translate(1065.1 3666.5) scale(1.000 1.041)" text-anchor="middle">15</text>
<text class="t" transform="translate(1334.5 3666.5) scale(1.000 1.041)" text-anchor="middle">20</text>
<text class="ax" transform="translate(762.5 3806.0) scale(1.000 1.041)">r (nm)</text>
<text class="ax" transform="translate(59.5 1858.5) rotate(-90) scale(1.000 1.041)">P(r)</text>
<text class="pl" transform="translate(274.5 169.7) scale(1.040 1.041)">A</text>
<text class="pl" transform="translate(275.5 1059.0) scale(1.000 1.041)">B</text>
<text class="pl" transform="translate(279.5 1951.0) scale(1.000 1.041)">C</text>
<text class="pl" transform="translate(279.5 2845.5) scale(1.000 1.041)">D</text>
<text class="t" transform="translate(673.0 121.0) scale(0.988 1.041)">PBS-50</text>
<text class="t" transform="translate(676.5 1019.3) scale(0.988 1.041)">PBS-137</text>
<text class="t" transform="translate(679.5 1902.3) scale(1.000 1.041)">Tris-150</text>
<text class="t" transform="translate(679.5 2797.8) scale(1.000 1.041)">Tris-150</text>
<text class="t" transform="translate(554.3 670.7) scale(1.035 1.041)" text-anchor="middle">M</text>
<text class="t" transform="translate(529.3 1564.0) scale(1.035 1.041)" text-anchor="middle">M</text>
<text class="t" transform="translate(537.5 2366.8) scale(1.035 1.041)" text-anchor="middle">M</text>
<text class="t" transform="translate(520.7 3153.5) scale(1.035 1.041)" text-anchor="middle">M</text>
<text class="t" transform="translate(1335.2 537.6) scale(1.070 1.041)">L</text>
<text class="t" transform="translate(1291.8 1419.2) scale(1.070 1.041)">L</text>
<text class="t" transform="translate(1300.6 2353.5) scale(1.070 1.041)">L</text>
<text class="t" transform="translate(1346.6 3229.7) scale(1.070 1.041)">L</text>
</g>
</svg></body></html>
